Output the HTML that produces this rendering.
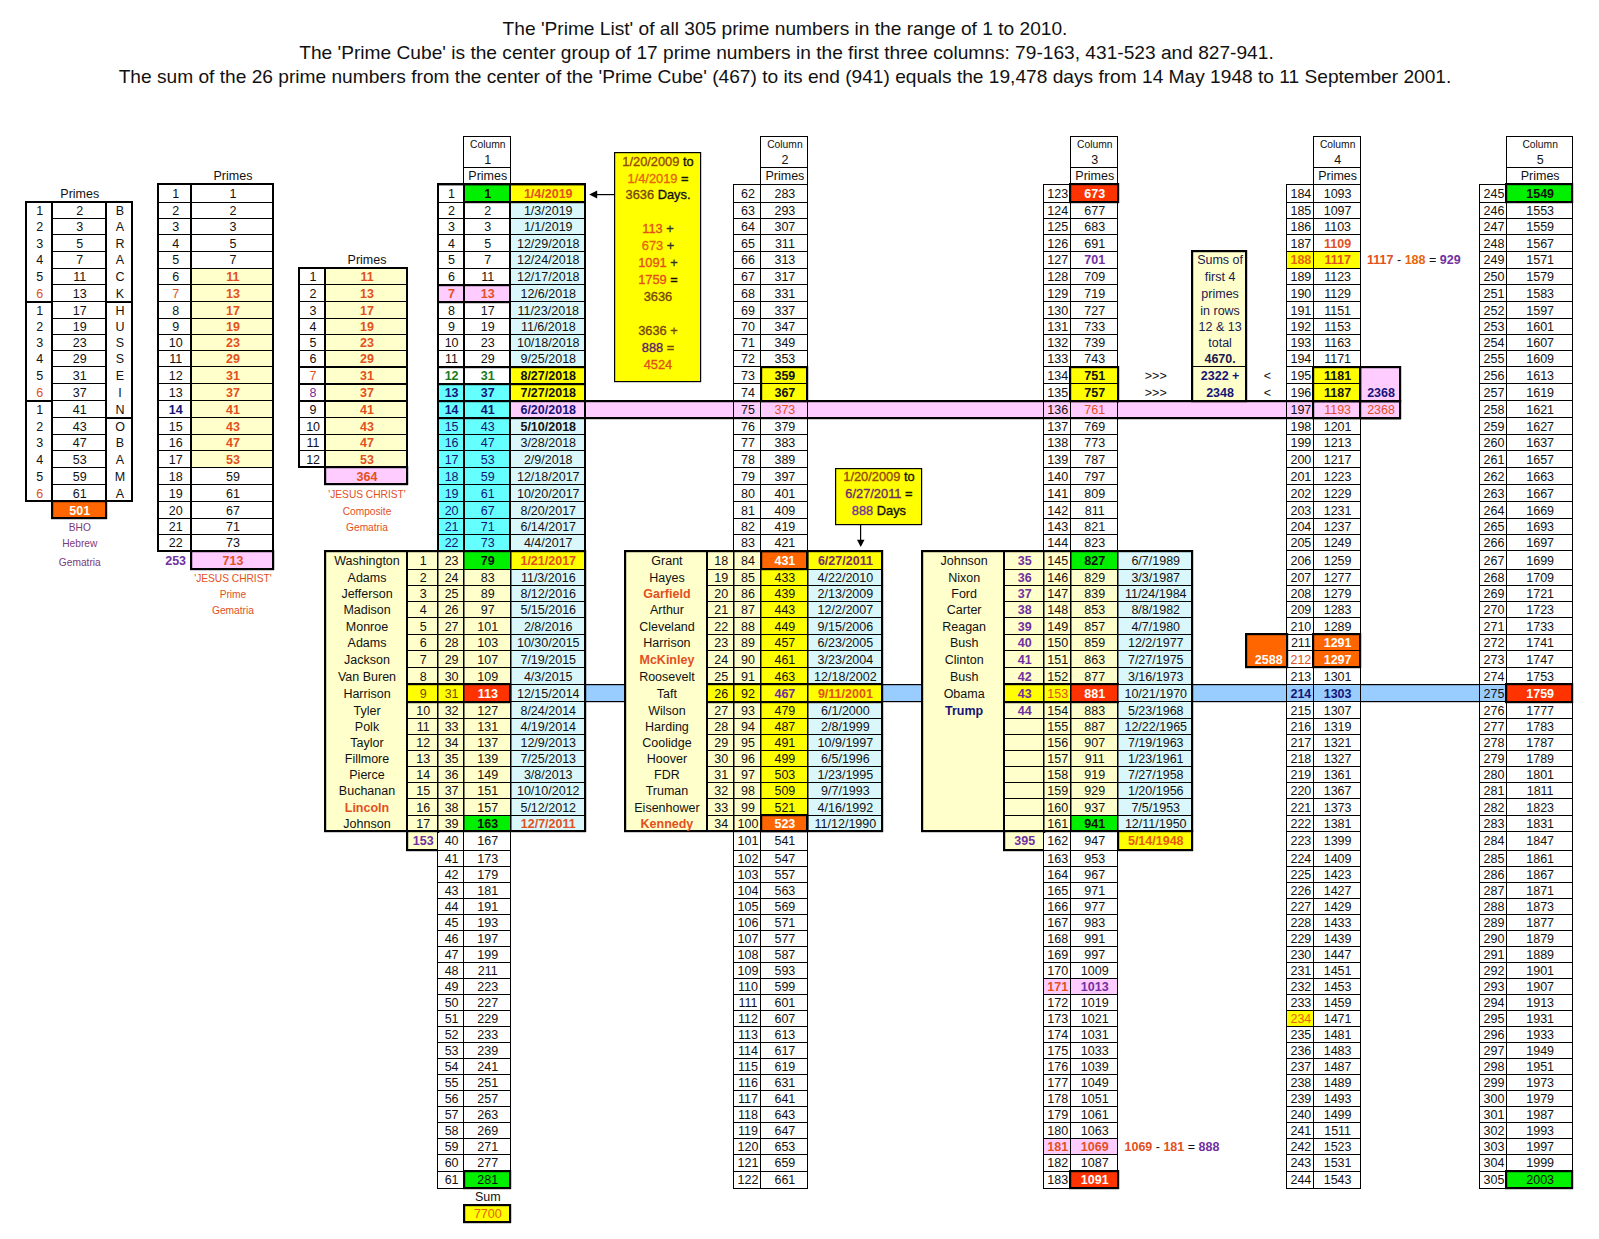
<!DOCTYPE html>
<html><head><meta charset="utf-8"><style>
html,body{margin:0;padding:0;background:#fff;width:1599px;height:1239px;overflow:hidden}
body{position:relative;font-family:"Liberation Sans",sans-serif}
.r{position:absolute}
.t{position:absolute;font-size:12.5px;line-height:14px;text-align:center;white-space:nowrap;color:#111}
.n{font-weight:normal}
.ti{position:absolute;left:0;width:1568px;text-align:center;font-size:19.15px;line-height:22px;white-space:nowrap;color:#111}
</style></head><body>
<div class="ti" style="top:18.2px;left:1px">The 'Prime List' of all 305 prime numbers in the range of 1 to 2010.</div>
<div class="ti" style="top:42.2px;left:2.5px">The 'Prime Cube' is the center group of 17 prime numbers in the first three columns: 79-163, 431-523 and 827-941.</div>
<div class="ti" style="top:66.4px;left:1px">The sum of the 26 prime numbers from the center of the 'Prime Cube' (467) to its end (941) equals the 19,478 days from 14 May 1948 to 11 September 2001.</div>
<div class="r" style="left:585px;top:401px;width:815px;height:17px;background:#FFCCFF"></div>
<div class="r" style="left:584px;top:400px;width:817px;height:2px;background:#000"></div>
<div class="r" style="left:584px;top:402px;width:817px;height:1px;background:rgba(0,0,0,0.20)"></div>
<div class="r" style="left:584px;top:417px;width:817px;height:2px;background:#000"></div>
<div class="r" style="left:584px;top:419px;width:817px;height:1px;background:rgba(0,0,0,0.20)"></div>
<div class="r" style="left:585px;top:684px;width:895px;height:18px;background:#99CCFF"></div>
<div class="r" style="left:584px;top:684px;width:896px;height:1px;background:#000"></div>
<div class="r" style="left:584px;top:685px;width:896px;height:1px;background:rgba(0,0,0,0.20)"></div>
<div class="r" style="left:584px;top:701px;width:896px;height:1px;background:#000"></div>
<div class="r" style="left:584px;top:702px;width:896px;height:1px;background:rgba(0,0,0,0.20)"></div>
<div class="t" style="left:52.6px;width:54.4px;top:186.7px;color:#111;">Primes</div>
<div class="r" style="left:26px;top:202px;width:106px;height:299px;background:#fff"></div>
<div class="r" style="left:51px;top:218px;width:56px;height:1px;background:#000"></div>
<div class="r" style="left:51px;top:234px;width:56px;height:1px;background:#000"></div>
<div class="r" style="left:51px;top:251px;width:56px;height:1px;background:#000"></div>
<div class="r" style="left:51px;top:268px;width:56px;height:1px;background:#000"></div>
<div class="r" style="left:51px;top:284px;width:56px;height:1px;background:#000"></div>
<div class="r" style="left:51px;top:301px;width:56px;height:1px;background:#000"></div>
<div class="r" style="left:51px;top:318px;width:56px;height:1px;background:#000"></div>
<div class="r" style="left:51px;top:334px;width:56px;height:1px;background:#000"></div>
<div class="r" style="left:51px;top:350px;width:56px;height:1px;background:#000"></div>
<div class="r" style="left:51px;top:366px;width:56px;height:1px;background:#000"></div>
<div class="r" style="left:51px;top:383px;width:56px;height:1px;background:#000"></div>
<div class="r" style="left:51px;top:400px;width:56px;height:1px;background:#000"></div>
<div class="r" style="left:51px;top:417px;width:56px;height:1px;background:#000"></div>
<div class="r" style="left:51px;top:434px;width:56px;height:1px;background:#000"></div>
<div class="r" style="left:51px;top:450px;width:56px;height:1px;background:#000"></div>
<div class="r" style="left:51px;top:467px;width:56px;height:1px;background:#000"></div>
<div class="r" style="left:51px;top:484px;width:56px;height:1px;background:#000"></div>
<div class="r" style="left:25px;top:301px;width:28px;height:2px;background:#000"></div>
<div class="r" style="left:25px;top:400px;width:28px;height:2px;background:#000"></div>
<div class="r" style="left:105px;top:301px;width:28px;height:2px;background:#000"></div>
<div class="r" style="left:105px;top:417px;width:28px;height:2px;background:#000"></div>
<div class="r" style="left:25px;top:201px;width:108px;height:2px;background:#000"></div>
<div class="r" style="left:25px;top:500px;width:108px;height:2px;background:#000"></div>
<div class="r" style="left:25px;top:201px;width:2px;height:301px;background:#000"></div>
<div class="r" style="left:131px;top:201px;width:2px;height:301px;background:#000"></div>
<div class="r" style="left:51px;top:201px;width:2px;height:301px;background:#000"></div>
<div class="r" style="left:105px;top:201px;width:2px;height:301px;background:#000"></div>
<div class="t" style="left:27px;width:25.6px;top:203.85px;color:#111;">1</div>
<div class="t" style="left:52.6px;width:54.4px;top:203.85px;color:#111;">2</div>
<div class="t" style="left:107px;width:26px;top:203.85px;color:#111;">B</div>
<div class="t" style="left:27px;width:25.6px;top:220.05px;color:#111;">2</div>
<div class="t" style="left:52.6px;width:54.4px;top:220.05px;color:#111;">3</div>
<div class="t" style="left:107px;width:26px;top:220.05px;color:#111;">A</div>
<div class="t" style="left:27px;width:25.6px;top:236.5px;color:#111;">3</div>
<div class="t" style="left:52.6px;width:54.4px;top:236.5px;color:#111;">5</div>
<div class="t" style="left:107px;width:26px;top:236.5px;color:#111;">R</div>
<div class="t" style="left:27px;width:25.6px;top:253.3px;color:#111;">4</div>
<div class="t" style="left:52.6px;width:54.4px;top:253.3px;color:#111;">7</div>
<div class="t" style="left:107px;width:26px;top:253.3px;color:#111;">A</div>
<div class="t" style="left:27px;width:25.6px;top:270.15px;color:#111;">5</div>
<div class="t" style="left:52.6px;width:54.4px;top:270.15px;color:#111;">11</div>
<div class="t" style="left:107px;width:26px;top:270.15px;color:#111;">C</div>
<div class="t" style="left:27px;width:25.6px;top:287.05px;color:#E2501E;">6</div>
<div class="t" style="left:52.6px;width:54.4px;top:287.05px;color:#111;">13</div>
<div class="t" style="left:107px;width:26px;top:287.05px;color:#111;">K</div>
<div class="t" style="left:27px;width:25.6px;top:303.6px;color:#111;">1</div>
<div class="t" style="left:52.6px;width:54.4px;top:303.6px;color:#111;">17</div>
<div class="t" style="left:107px;width:26px;top:303.6px;color:#111;">H</div>
<div class="t" style="left:27px;width:25.6px;top:319.8px;color:#111;">2</div>
<div class="t" style="left:52.6px;width:54.4px;top:319.8px;color:#111;">19</div>
<div class="t" style="left:107px;width:26px;top:319.8px;color:#111;">U</div>
<div class="t" style="left:27px;width:25.6px;top:335.95px;color:#111;">3</div>
<div class="t" style="left:52.6px;width:54.4px;top:335.95px;color:#111;">23</div>
<div class="t" style="left:107px;width:26px;top:335.95px;color:#111;">S</div>
<div class="t" style="left:27px;width:25.6px;top:352.15px;color:#111;">4</div>
<div class="t" style="left:52.6px;width:54.4px;top:352.15px;color:#111;">29</div>
<div class="t" style="left:107px;width:26px;top:352.15px;color:#111;">S</div>
<div class="t" style="left:27px;width:25.6px;top:368.75px;color:#111;">5</div>
<div class="t" style="left:52.6px;width:54.4px;top:368.75px;color:#111;">31</div>
<div class="t" style="left:107px;width:26px;top:368.75px;color:#111;">E</div>
<div class="t" style="left:27px;width:25.6px;top:385.85px;color:#E2501E;">6</div>
<div class="t" style="left:52.6px;width:54.4px;top:385.85px;color:#111;">37</div>
<div class="t" style="left:107px;width:26px;top:385.85px;color:#111;">I</div>
<div class="t" style="left:27px;width:25.6px;top:403.05px;color:#111;">1</div>
<div class="t" style="left:52.6px;width:54.4px;top:403.05px;color:#111;">41</div>
<div class="t" style="left:107px;width:26px;top:403.05px;color:#111;">N</div>
<div class="t" style="left:27px;width:25.6px;top:419.85px;color:#111;">2</div>
<div class="t" style="left:52.6px;width:54.4px;top:419.85px;color:#111;">43</div>
<div class="t" style="left:107px;width:26px;top:419.85px;color:#111;">O</div>
<div class="t" style="left:27px;width:25.6px;top:436.2px;color:#111;">3</div>
<div class="t" style="left:52.6px;width:54.4px;top:436.2px;color:#111;">47</div>
<div class="t" style="left:107px;width:26px;top:436.2px;color:#111;">B</div>
<div class="t" style="left:27px;width:25.6px;top:452.65px;color:#111;">4</div>
<div class="t" style="left:52.6px;width:54.4px;top:452.65px;color:#111;">53</div>
<div class="t" style="left:107px;width:26px;top:452.65px;color:#111;">A</div>
<div class="t" style="left:27px;width:25.6px;top:469.55px;color:#111;">5</div>
<div class="t" style="left:52.6px;width:54.4px;top:469.55px;color:#111;">59</div>
<div class="t" style="left:107px;width:26px;top:469.55px;color:#111;">M</div>
<div class="t" style="left:27px;width:25.6px;top:486.55px;color:#E2501E;">6</div>
<div class="t" style="left:52.6px;width:54.4px;top:486.55px;color:#111;">61</div>
<div class="t" style="left:107px;width:26px;top:486.55px;color:#111;">A</div>
<div class="r" style="left:52px;top:501px;width:54px;height:17px;background:#FF6600"></div>
<div class="r" style="left:51px;top:500px;width:56px;height:2px;background:#000"></div>
<div class="r" style="left:51px;top:502px;width:56px;height:1px;background:rgba(0,0,0,0.20)"></div>
<div class="r" style="left:51px;top:517px;width:56px;height:2px;background:#000"></div>
<div class="r" style="left:51px;top:519px;width:56px;height:1px;background:rgba(0,0,0,0.20)"></div>
<div class="r" style="left:51px;top:500px;width:2px;height:19px;background:#000"></div>
<div class="r" style="left:53px;top:500px;width:1px;height:19px;background:rgba(0,0,0,0.20)"></div>
<div class="r" style="left:105px;top:500px;width:2px;height:19px;background:#000"></div>
<div class="r" style="left:107px;top:500px;width:1px;height:19px;background:rgba(0,0,0,0.20)"></div>
<div class="t" style="left:52.6px;width:54.4px;top:503.55px;color:#fff;font-weight:bold;">501</div>
<div class="t" style="left:32.6px;width:94.4px;top:520.9px;color:#7B3B7B;font-size:10.2px;">BHO</div>
<div class="t" style="left:32.6px;width:94.4px;top:537.1px;color:#7B3B7B;font-size:10.2px;">Hebrew</div>
<div class="t" style="left:32.6px;width:94.4px;top:555.5px;color:#7B3B7B;font-size:10.2px;">Gematria</div>
<div class="t" style="left:191.9px;width:82.1px;top:169.3px;color:#111;">Primes</div>
<div class="r" style="left:158px;top:184px;width:115px;height:367px;background:#fff"></div>
<div class="r" style="left:191px;top:268px;width:82px;height:199px;background:#FFFFCC"></div>
<div class="r" style="left:158px;top:202px;width:116px;height:1px;background:#000"></div>
<div class="r" style="left:158px;top:218px;width:116px;height:1px;background:#000"></div>
<div class="r" style="left:158px;top:234px;width:116px;height:1px;background:#000"></div>
<div class="r" style="left:158px;top:251px;width:116px;height:1px;background:#000"></div>
<div class="r" style="left:158px;top:268px;width:116px;height:1px;background:#000"></div>
<div class="r" style="left:158px;top:284px;width:116px;height:1px;background:#000"></div>
<div class="r" style="left:158px;top:301px;width:116px;height:1px;background:#000"></div>
<div class="r" style="left:158px;top:318px;width:116px;height:1px;background:#000"></div>
<div class="r" style="left:158px;top:334px;width:116px;height:1px;background:#000"></div>
<div class="r" style="left:158px;top:350px;width:116px;height:1px;background:#000"></div>
<div class="r" style="left:158px;top:366px;width:116px;height:1px;background:#000"></div>
<div class="r" style="left:158px;top:383px;width:116px;height:1px;background:#000"></div>
<div class="r" style="left:158px;top:400px;width:116px;height:1px;background:#000"></div>
<div class="r" style="left:158px;top:417px;width:116px;height:1px;background:#000"></div>
<div class="r" style="left:158px;top:434px;width:116px;height:1px;background:#000"></div>
<div class="r" style="left:158px;top:450px;width:116px;height:1px;background:#000"></div>
<div class="r" style="left:158px;top:467px;width:116px;height:1px;background:#000"></div>
<div class="r" style="left:158px;top:484px;width:116px;height:1px;background:#000"></div>
<div class="r" style="left:158px;top:501px;width:116px;height:1px;background:#000"></div>
<div class="r" style="left:158px;top:518px;width:116px;height:1px;background:#000"></div>
<div class="r" style="left:158px;top:534px;width:116px;height:1px;background:#000"></div>
<div class="r" style="left:157px;top:183px;width:117px;height:2px;background:#000"></div>
<div class="r" style="left:157px;top:550px;width:117px;height:2px;background:#000"></div>
<div class="r" style="left:157px;top:183px;width:2px;height:369px;background:#000"></div>
<div class="r" style="left:272px;top:183px;width:2px;height:369px;background:#000"></div>
<div class="r" style="left:190px;top:183px;width:2px;height:369px;background:#000"></div>
<div class="t" style="left:159.4px;width:32.5px;top:186.7px;color:#111;">1</div>
<div class="t" style="left:191.9px;width:82.1px;top:186.7px;color:#111;">1</div>
<div class="t" style="left:159.4px;width:32.5px;top:203.85px;color:#111;">2</div>
<div class="t" style="left:191.9px;width:82.1px;top:203.85px;color:#111;">2</div>
<div class="t" style="left:159.4px;width:32.5px;top:220.05px;color:#111;">3</div>
<div class="t" style="left:191.9px;width:82.1px;top:220.05px;color:#111;">3</div>
<div class="t" style="left:159.4px;width:32.5px;top:236.5px;color:#111;">4</div>
<div class="t" style="left:191.9px;width:82.1px;top:236.5px;color:#111;">5</div>
<div class="t" style="left:159.4px;width:32.5px;top:253.3px;color:#111;">5</div>
<div class="t" style="left:191.9px;width:82.1px;top:253.3px;color:#111;">7</div>
<div class="t" style="left:159.4px;width:32.5px;top:270.15px;color:#111;">6</div>
<div class="t" style="left:191.9px;width:82.1px;top:270.15px;color:#E2501E;font-weight:bold;">11</div>
<div class="t" style="left:159.4px;width:32.5px;top:287.05px;color:#E2501E;">7</div>
<div class="t" style="left:191.9px;width:82.1px;top:287.05px;color:#E2501E;font-weight:bold;">13</div>
<div class="t" style="left:159.4px;width:32.5px;top:303.6px;color:#111;">8</div>
<div class="t" style="left:191.9px;width:82.1px;top:303.6px;color:#E2501E;font-weight:bold;">17</div>
<div class="t" style="left:159.4px;width:32.5px;top:319.8px;color:#111;">9</div>
<div class="t" style="left:191.9px;width:82.1px;top:319.8px;color:#E2501E;font-weight:bold;">19</div>
<div class="t" style="left:159.4px;width:32.5px;top:335.95px;color:#111;">10</div>
<div class="t" style="left:191.9px;width:82.1px;top:335.95px;color:#E2501E;font-weight:bold;">23</div>
<div class="t" style="left:159.4px;width:32.5px;top:352.15px;color:#111;">11</div>
<div class="t" style="left:191.9px;width:82.1px;top:352.15px;color:#E2501E;font-weight:bold;">29</div>
<div class="t" style="left:159.4px;width:32.5px;top:368.75px;color:#111;">12</div>
<div class="t" style="left:191.9px;width:82.1px;top:368.75px;color:#E2501E;font-weight:bold;">31</div>
<div class="t" style="left:159.4px;width:32.5px;top:385.85px;color:#111;">13</div>
<div class="t" style="left:191.9px;width:82.1px;top:385.85px;color:#E2501E;font-weight:bold;">37</div>
<div class="t" style="left:159.4px;width:32.5px;top:403.05px;color:#141478;font-weight:bold;">14</div>
<div class="t" style="left:191.9px;width:82.1px;top:403.05px;color:#E2501E;font-weight:bold;">41</div>
<div class="t" style="left:159.4px;width:32.5px;top:419.85px;color:#111;">15</div>
<div class="t" style="left:191.9px;width:82.1px;top:419.85px;color:#E2501E;font-weight:bold;">43</div>
<div class="t" style="left:159.4px;width:32.5px;top:436.2px;color:#111;">16</div>
<div class="t" style="left:191.9px;width:82.1px;top:436.2px;color:#E2501E;font-weight:bold;">47</div>
<div class="t" style="left:159.4px;width:32.5px;top:452.65px;color:#111;">17</div>
<div class="t" style="left:191.9px;width:82.1px;top:452.65px;color:#E2501E;font-weight:bold;">53</div>
<div class="t" style="left:159.4px;width:32.5px;top:469.55px;color:#111;">18</div>
<div class="t" style="left:191.9px;width:82.1px;top:469.55px;color:#111;">59</div>
<div class="t" style="left:159.4px;width:32.5px;top:486.55px;color:#111;">19</div>
<div class="t" style="left:191.9px;width:82.1px;top:486.55px;color:#111;">61</div>
<div class="t" style="left:159.4px;width:32.5px;top:503.55px;color:#111;">20</div>
<div class="t" style="left:191.9px;width:82.1px;top:503.55px;color:#111;">67</div>
<div class="t" style="left:159.4px;width:32.5px;top:520.15px;color:#111;">21</div>
<div class="t" style="left:191.9px;width:82.1px;top:520.15px;color:#111;">71</div>
<div class="t" style="left:159.4px;width:32.5px;top:536.3px;color:#111;">22</div>
<div class="t" style="left:191.9px;width:82.1px;top:536.3px;color:#111;">73</div>
<div class="t" style="left:159.4px;width:32.5px;top:553.6px;color:#7030A0;font-weight:bold;">253</div>
<div class="r" style="left:191px;top:551px;width:82px;height:18px;background:#FFCCFF"></div>
<div class="r" style="left:190px;top:550px;width:84px;height:2px;background:#000"></div>
<div class="r" style="left:190px;top:552px;width:84px;height:1px;background:rgba(0,0,0,0.20)"></div>
<div class="r" style="left:190px;top:568px;width:84px;height:2px;background:#000"></div>
<div class="r" style="left:190px;top:570px;width:84px;height:1px;background:rgba(0,0,0,0.20)"></div>
<div class="r" style="left:190px;top:550px;width:2px;height:20px;background:#000"></div>
<div class="r" style="left:192px;top:550px;width:1px;height:20px;background:rgba(0,0,0,0.20)"></div>
<div class="r" style="left:272px;top:550px;width:2px;height:20px;background:#000"></div>
<div class="r" style="left:274px;top:550px;width:1px;height:20px;background:rgba(0,0,0,0.20)"></div>
<div class="t" style="left:191.9px;width:82.1px;top:553.6px;color:#E2501E;font-weight:bold;">713</div>
<div class="t" style="left:161.9px;width:142.1px;top:571.6px;color:#E2501E;font-size:10.2px;">'JESUS CHRIST'</div>
<div class="t" style="left:161.9px;width:142.1px;top:587.8px;color:#E2501E;font-size:10.2px;">Prime</div>
<div class="t" style="left:161.9px;width:142.1px;top:603.9px;color:#E2501E;font-size:10.2px;">Gematria</div>
<div class="t" style="left:326px;width:82px;top:253.3px;color:#111;">Primes</div>
<div class="r" style="left:299px;top:268px;width:108px;height:199px;background:#fff"></div>
<div class="r" style="left:325px;top:268px;width:82px;height:199px;background:#FFFFCC"></div>
<div class="r" style="left:299px;top:284px;width:109px;height:1px;background:#000"></div>
<div class="r" style="left:299px;top:301px;width:109px;height:1px;background:#000"></div>
<div class="r" style="left:299px;top:318px;width:109px;height:1px;background:#000"></div>
<div class="r" style="left:299px;top:334px;width:109px;height:1px;background:#000"></div>
<div class="r" style="left:299px;top:350px;width:109px;height:1px;background:#000"></div>
<div class="r" style="left:299px;top:366px;width:109px;height:1px;background:#000"></div>
<div class="r" style="left:299px;top:383px;width:109px;height:1px;background:#000"></div>
<div class="r" style="left:299px;top:400px;width:109px;height:1px;background:#000"></div>
<div class="r" style="left:299px;top:417px;width:109px;height:1px;background:#000"></div>
<div class="r" style="left:299px;top:434px;width:109px;height:1px;background:#000"></div>
<div class="r" style="left:299px;top:450px;width:109px;height:1px;background:#000"></div>
<div class="r" style="left:298px;top:366px;width:110px;height:2px;background:#000"></div>
<div class="r" style="left:298px;top:383px;width:110px;height:2px;background:#000"></div>
<div class="r" style="left:298px;top:400px;width:110px;height:2px;background:#000"></div>
<div class="r" style="left:298px;top:267px;width:110px;height:2px;background:#000"></div>
<div class="r" style="left:298px;top:466px;width:110px;height:2px;background:#000"></div>
<div class="r" style="left:298px;top:267px;width:2px;height:201px;background:#000"></div>
<div class="r" style="left:406px;top:267px;width:2px;height:201px;background:#000"></div>
<div class="r" style="left:324px;top:267px;width:2px;height:201px;background:#000"></div>
<div class="t" style="left:300.2px;width:25.8px;top:270.15px;color:#111;">1</div>
<div class="t" style="left:326px;width:82px;top:270.15px;color:#E2501E;font-weight:bold;">11</div>
<div class="t" style="left:300.2px;width:25.8px;top:287.05px;color:#111;">2</div>
<div class="t" style="left:326px;width:82px;top:287.05px;color:#E2501E;font-weight:bold;">13</div>
<div class="t" style="left:300.2px;width:25.8px;top:303.6px;color:#111;">3</div>
<div class="t" style="left:326px;width:82px;top:303.6px;color:#E2501E;font-weight:bold;">17</div>
<div class="t" style="left:300.2px;width:25.8px;top:319.8px;color:#111;">4</div>
<div class="t" style="left:326px;width:82px;top:319.8px;color:#E2501E;font-weight:bold;">19</div>
<div class="t" style="left:300.2px;width:25.8px;top:335.95px;color:#111;">5</div>
<div class="t" style="left:326px;width:82px;top:335.95px;color:#E2501E;font-weight:bold;">23</div>
<div class="t" style="left:300.2px;width:25.8px;top:352.15px;color:#111;">6</div>
<div class="t" style="left:326px;width:82px;top:352.15px;color:#E2501E;font-weight:bold;">29</div>
<div class="t" style="left:300.2px;width:25.8px;top:368.75px;color:#E2501E;">7</div>
<div class="t" style="left:326px;width:82px;top:368.75px;color:#E2501E;font-weight:bold;">31</div>
<div class="t" style="left:300.2px;width:25.8px;top:385.85px;color:#7030A0;">8</div>
<div class="t" style="left:326px;width:82px;top:385.85px;color:#E2501E;font-weight:bold;">37</div>
<div class="t" style="left:300.2px;width:25.8px;top:403.05px;color:#111;">9</div>
<div class="t" style="left:326px;width:82px;top:403.05px;color:#E2501E;font-weight:bold;">41</div>
<div class="t" style="left:300.2px;width:25.8px;top:419.85px;color:#111;">10</div>
<div class="t" style="left:326px;width:82px;top:419.85px;color:#E2501E;font-weight:bold;">43</div>
<div class="t" style="left:300.2px;width:25.8px;top:436.2px;color:#111;">11</div>
<div class="t" style="left:326px;width:82px;top:436.2px;color:#E2501E;font-weight:bold;">47</div>
<div class="t" style="left:300.2px;width:25.8px;top:452.65px;color:#111;">12</div>
<div class="t" style="left:326px;width:82px;top:452.65px;color:#E2501E;font-weight:bold;">53</div>
<div class="r" style="left:325px;top:467px;width:82px;height:17px;background:#FFCCFF"></div>
<div class="r" style="left:324px;top:466px;width:84px;height:2px;background:#000"></div>
<div class="r" style="left:324px;top:468px;width:84px;height:1px;background:rgba(0,0,0,0.20)"></div>
<div class="r" style="left:324px;top:483px;width:84px;height:2px;background:#000"></div>
<div class="r" style="left:324px;top:485px;width:84px;height:1px;background:rgba(0,0,0,0.20)"></div>
<div class="r" style="left:324px;top:466px;width:2px;height:19px;background:#000"></div>
<div class="r" style="left:326px;top:466px;width:1px;height:19px;background:rgba(0,0,0,0.20)"></div>
<div class="r" style="left:406px;top:466px;width:2px;height:19px;background:#000"></div>
<div class="r" style="left:408px;top:466px;width:1px;height:19px;background:rgba(0,0,0,0.20)"></div>
<div class="t" style="left:326px;width:82px;top:469.55px;color:#E2501E;font-weight:bold;">364</div>
<div class="t" style="left:296px;width:142px;top:487.7px;color:#E2501E;font-size:10.2px;">'JESUS CHRIST'</div>
<div class="t" style="left:296px;width:142px;top:504.8px;color:#E2501E;font-size:10.2px;">Composite</div>
<div class="t" style="left:296px;width:142px;top:520.9px;color:#E2501E;font-size:10.2px;">Gematria</div>
<div class="r" style="left:464px;top:137px;width:46px;height:47px;background:#fff"></div>
<div class="r" style="left:463px;top:136px;width:48px;height:1px;background:#000"></div>
<div class="r" style="left:463px;top:167px;width:48px;height:1px;background:#000"></div>
<div class="r" style="left:463px;top:136px;width:1px;height:32px;background:#000"></div>
<div class="r" style="left:510px;top:136px;width:1px;height:32px;background:#000"></div>
<div class="r" style="left:463px;top:167px;width:48px;height:1px;background:#000"></div>
<div class="r" style="left:463px;top:184px;width:48px;height:1px;background:#000"></div>
<div class="r" style="left:463px;top:167px;width:1px;height:18px;background:#000"></div>
<div class="r" style="left:510px;top:167px;width:1px;height:18px;background:#000"></div>
<div class="t" style="left:464.6px;width:46.4px;top:137.6px;color:#111;font-size:10.3px;">Column</div>
<div class="t" style="left:464.6px;width:46.4px;top:152.6px;color:#111;">1</div>
<div class="t" style="left:464.6px;width:46.4px;top:169.3px;color:#111;">Primes</div>
<div class="r" style="left:438px;top:184px;width:147px;height:367px;background:#fff"></div>
<div class="r" style="left:510px;top:184px;width:75px;height:367px;background:#DAF7FC"></div>
<div class="r" style="left:464px;top:184px;width:46px;height:18px;background:#00F000"></div>
<div class="r" style="left:510px;top:184px;width:75px;height:18px;background:#FFFF00"></div>
<div class="r" style="left:438px;top:285px;width:72px;height:17px;background:#FFCCFF"></div>
<div class="r" style="left:510px;top:367px;width:75px;height:34px;background:#FFFF00"></div>
<div class="r" style="left:510px;top:401px;width:75px;height:17px;background:#FFCCFF"></div>
<div class="r" style="left:438px;top:384px;width:72px;height:167px;background:#66FFFF"></div>
<div class="r" style="left:437px;top:202px;width:148px;height:1px;background:#000"></div>
<div class="r" style="left:437px;top:218px;width:148px;height:1px;background:#000"></div>
<div class="r" style="left:437px;top:234px;width:148px;height:1px;background:#000"></div>
<div class="r" style="left:437px;top:251px;width:148px;height:1px;background:#000"></div>
<div class="r" style="left:437px;top:268px;width:148px;height:1px;background:#000"></div>
<div class="r" style="left:437px;top:284px;width:148px;height:1px;background:#000"></div>
<div class="r" style="left:437px;top:301px;width:148px;height:1px;background:#000"></div>
<div class="r" style="left:437px;top:318px;width:148px;height:1px;background:#000"></div>
<div class="r" style="left:437px;top:334px;width:148px;height:1px;background:#000"></div>
<div class="r" style="left:437px;top:350px;width:148px;height:1px;background:#000"></div>
<div class="r" style="left:437px;top:366px;width:148px;height:1px;background:#000"></div>
<div class="r" style="left:437px;top:383px;width:148px;height:1px;background:#000"></div>
<div class="r" style="left:437px;top:400px;width:148px;height:1px;background:#000"></div>
<div class="r" style="left:437px;top:417px;width:148px;height:1px;background:#000"></div>
<div class="r" style="left:437px;top:434px;width:148px;height:1px;background:#000"></div>
<div class="r" style="left:437px;top:450px;width:148px;height:1px;background:#000"></div>
<div class="r" style="left:437px;top:467px;width:148px;height:1px;background:#000"></div>
<div class="r" style="left:437px;top:484px;width:148px;height:1px;background:#000"></div>
<div class="r" style="left:437px;top:501px;width:148px;height:1px;background:#000"></div>
<div class="r" style="left:437px;top:518px;width:148px;height:1px;background:#000"></div>
<div class="r" style="left:437px;top:534px;width:148px;height:1px;background:#000"></div>
<div class="r" style="left:437px;top:183px;width:2px;height:369px;background:#000"></div>
<div class="r" style="left:463px;top:183px;width:2px;height:369px;background:#000"></div>
<div class="r" style="left:509px;top:183px;width:2px;height:369px;background:#000"></div>
<div class="r" style="left:584px;top:183px;width:2px;height:369px;background:#000"></div>
<div class="r" style="left:437px;top:183px;width:149px;height:2px;background:#000"></div>
<div class="r" style="left:437px;top:185px;width:149px;height:1px;background:rgba(0,0,0,0.40)"></div>
<div class="r" style="left:463px;top:201px;width:123px;height:2px;background:#000"></div>
<div class="r" style="left:463px;top:203px;width:123px;height:1px;background:rgba(0,0,0,0.20)"></div>
<div class="r" style="left:437px;top:284px;width:74px;height:2px;background:#000"></div>
<div class="r" style="left:437px;top:286px;width:74px;height:1px;background:rgba(0,0,0,0.20)"></div>
<div class="r" style="left:437px;top:301px;width:74px;height:2px;background:#000"></div>
<div class="r" style="left:437px;top:303px;width:74px;height:1px;background:rgba(0,0,0,0.20)"></div>
<div class="r" style="left:437px;top:366px;width:149px;height:2px;background:#000"></div>
<div class="r" style="left:437px;top:368px;width:149px;height:1px;background:rgba(0,0,0,0.20)"></div>
<div class="r" style="left:437px;top:383px;width:149px;height:2px;background:#000"></div>
<div class="r" style="left:437px;top:385px;width:149px;height:1px;background:rgba(0,0,0,0.20)"></div>
<div class="r" style="left:437px;top:400px;width:149px;height:2px;background:#000"></div>
<div class="r" style="left:437px;top:402px;width:149px;height:1px;background:rgba(0,0,0,0.20)"></div>
<div class="r" style="left:437px;top:417px;width:149px;height:2px;background:#000"></div>
<div class="r" style="left:437px;top:419px;width:149px;height:1px;background:rgba(0,0,0,0.20)"></div>
<div class="t" style="left:438.6px;width:26px;top:186.7px;color:#111;">1</div>
<div class="t" style="left:464.6px;width:46.4px;top:186.7px;color:#111;font-weight:bold;">1</div>
<div class="t" style="left:511px;width:74.5px;top:186.7px;color:#E2501E;font-weight:bold;">1/4/2019</div>
<div class="t" style="left:438.6px;width:26px;top:203.85px;color:#111;">2</div>
<div class="t" style="left:464.6px;width:46.4px;top:203.85px;color:#111;">2</div>
<div class="t" style="left:511px;width:74.5px;top:203.85px;color:#111;">1/3/2019</div>
<div class="t" style="left:438.6px;width:26px;top:220.05px;color:#111;">3</div>
<div class="t" style="left:464.6px;width:46.4px;top:220.05px;color:#111;">3</div>
<div class="t" style="left:511px;width:74.5px;top:220.05px;color:#111;">1/1/2019</div>
<div class="t" style="left:438.6px;width:26px;top:236.5px;color:#111;">4</div>
<div class="t" style="left:464.6px;width:46.4px;top:236.5px;color:#111;">5</div>
<div class="t" style="left:511px;width:74.5px;top:236.5px;color:#111;">12/29/2018</div>
<div class="t" style="left:438.6px;width:26px;top:253.3px;color:#111;">5</div>
<div class="t" style="left:464.6px;width:46.4px;top:253.3px;color:#111;">7</div>
<div class="t" style="left:511px;width:74.5px;top:253.3px;color:#111;">12/24/2018</div>
<div class="t" style="left:438.6px;width:26px;top:270.15px;color:#111;">6</div>
<div class="t" style="left:464.6px;width:46.4px;top:270.15px;color:#111;">11</div>
<div class="t" style="left:511px;width:74.5px;top:270.15px;color:#111;">12/17/2018</div>
<div class="t" style="left:438.6px;width:26px;top:287.05px;color:#E2501E;font-weight:bold;">7</div>
<div class="t" style="left:464.6px;width:46.4px;top:287.05px;color:#E2501E;font-weight:bold;">13</div>
<div class="t" style="left:511px;width:74.5px;top:287.05px;color:#111;">12/6/2018</div>
<div class="t" style="left:438.6px;width:26px;top:303.6px;color:#111;">8</div>
<div class="t" style="left:464.6px;width:46.4px;top:303.6px;color:#111;">17</div>
<div class="t" style="left:511px;width:74.5px;top:303.6px;color:#111;">11/23/2018</div>
<div class="t" style="left:438.6px;width:26px;top:319.8px;color:#111;">9</div>
<div class="t" style="left:464.6px;width:46.4px;top:319.8px;color:#111;">19</div>
<div class="t" style="left:511px;width:74.5px;top:319.8px;color:#111;">11/6/2018</div>
<div class="t" style="left:438.6px;width:26px;top:335.95px;color:#111;">10</div>
<div class="t" style="left:464.6px;width:46.4px;top:335.95px;color:#111;">23</div>
<div class="t" style="left:511px;width:74.5px;top:335.95px;color:#111;">10/18/2018</div>
<div class="t" style="left:438.6px;width:26px;top:352.15px;color:#111;">11</div>
<div class="t" style="left:464.6px;width:46.4px;top:352.15px;color:#111;">29</div>
<div class="t" style="left:511px;width:74.5px;top:352.15px;color:#111;">9/25/2018</div>
<div class="t" style="left:438.6px;width:26px;top:368.75px;color:#1A7A1A;font-weight:bold;">12</div>
<div class="t" style="left:464.6px;width:46.4px;top:368.75px;color:#1A7A1A;font-weight:bold;">31</div>
<div class="t" style="left:511px;width:74.5px;top:368.75px;color:#111;font-weight:bold;">8/27/2018</div>
<div class="t" style="left:438.6px;width:26px;top:385.85px;color:#141478;font-weight:bold;">13</div>
<div class="t" style="left:464.6px;width:46.4px;top:385.85px;color:#141478;font-weight:bold;">37</div>
<div class="t" style="left:511px;width:74.5px;top:385.85px;color:#111;font-weight:bold;">7/27/2018</div>
<div class="t" style="left:438.6px;width:26px;top:403.05px;color:#141478;font-weight:bold;">14</div>
<div class="t" style="left:464.6px;width:46.4px;top:403.05px;color:#141478;font-weight:bold;">41</div>
<div class="t" style="left:511px;width:74.5px;top:403.05px;color:#141478;font-weight:bold;">6/20/2018</div>
<div class="t" style="left:438.6px;width:26px;top:419.85px;color:#141478;">15</div>
<div class="t" style="left:464.6px;width:46.4px;top:419.85px;color:#141478;">43</div>
<div class="t" style="left:511px;width:74.5px;top:419.85px;color:#111;font-weight:bold;">5/10/2018</div>
<div class="t" style="left:438.6px;width:26px;top:436.2px;color:#141478;">16</div>
<div class="t" style="left:464.6px;width:46.4px;top:436.2px;color:#141478;">47</div>
<div class="t" style="left:511px;width:74.5px;top:436.2px;color:#111;">3/28/2018</div>
<div class="t" style="left:438.6px;width:26px;top:452.65px;color:#141478;">17</div>
<div class="t" style="left:464.6px;width:46.4px;top:452.65px;color:#141478;">53</div>
<div class="t" style="left:511px;width:74.5px;top:452.65px;color:#111;">2/9/2018</div>
<div class="t" style="left:438.6px;width:26px;top:469.55px;color:#141478;">18</div>
<div class="t" style="left:464.6px;width:46.4px;top:469.55px;color:#141478;">59</div>
<div class="t" style="left:511px;width:74.5px;top:469.55px;color:#111;">12/18/2017</div>
<div class="t" style="left:438.6px;width:26px;top:486.55px;color:#141478;">19</div>
<div class="t" style="left:464.6px;width:46.4px;top:486.55px;color:#141478;">61</div>
<div class="t" style="left:511px;width:74.5px;top:486.55px;color:#111;">10/20/2017</div>
<div class="t" style="left:438.6px;width:26px;top:503.55px;color:#141478;">20</div>
<div class="t" style="left:464.6px;width:46.4px;top:503.55px;color:#141478;">67</div>
<div class="t" style="left:511px;width:74.5px;top:503.55px;color:#111;">8/20/2017</div>
<div class="t" style="left:438.6px;width:26px;top:520.15px;color:#141478;">21</div>
<div class="t" style="left:464.6px;width:46.4px;top:520.15px;color:#141478;">71</div>
<div class="t" style="left:511px;width:74.5px;top:520.15px;color:#111;">6/14/2017</div>
<div class="t" style="left:438.6px;width:26px;top:536.3px;color:#141478;">22</div>
<div class="t" style="left:464.6px;width:46.4px;top:536.3px;color:#141478;">73</div>
<div class="t" style="left:511px;width:74.5px;top:536.3px;color:#111;">4/4/2017</div>
<div class="r" style="left:325px;top:551px;width:185px;height:280px;background:#FFFFCC"></div>
<div class="r" style="left:510px;top:551px;width:75px;height:280px;background:#DAF7FC"></div>
<div class="r" style="left:464px;top:551px;width:46px;height:18px;background:#00F000"></div>
<div class="r" style="left:510px;top:551px;width:75px;height:18px;background:#FFFF00"></div>
<div class="r" style="left:407px;top:684px;width:57px;height:18px;background:#FFFF00"></div>
<div class="r" style="left:464px;top:684px;width:46px;height:18px;background:#FF3300"></div>
<div class="r" style="left:464px;top:815px;width:46px;height:16px;background:#00F000"></div>
<div class="r" style="left:407px;top:569px;width:178px;height:1px;background:#000"></div>
<div class="r" style="left:407px;top:585px;width:178px;height:1px;background:#000"></div>
<div class="r" style="left:407px;top:601px;width:178px;height:1px;background:#000"></div>
<div class="r" style="left:407px;top:617px;width:178px;height:1px;background:#000"></div>
<div class="r" style="left:407px;top:634px;width:178px;height:1px;background:#000"></div>
<div class="r" style="left:407px;top:650px;width:178px;height:1px;background:#000"></div>
<div class="r" style="left:407px;top:667px;width:178px;height:1px;background:#000"></div>
<div class="r" style="left:407px;top:684px;width:178px;height:1px;background:#000"></div>
<div class="r" style="left:407px;top:701px;width:178px;height:1px;background:#000"></div>
<div class="r" style="left:407px;top:718px;width:178px;height:1px;background:#000"></div>
<div class="r" style="left:407px;top:734px;width:178px;height:1px;background:#000"></div>
<div class="r" style="left:407px;top:750px;width:178px;height:1px;background:#000"></div>
<div class="r" style="left:407px;top:766px;width:178px;height:1px;background:#000"></div>
<div class="r" style="left:407px;top:782px;width:178px;height:1px;background:#000"></div>
<div class="r" style="left:407px;top:798px;width:178px;height:1px;background:#000"></div>
<div class="r" style="left:407px;top:815px;width:178px;height:1px;background:#000"></div>
<div class="r" style="left:406px;top:550px;width:2px;height:282px;background:#000"></div>
<div class="r" style="left:437px;top:550px;width:1px;height:282px;background:#000"></div>
<div class="r" style="left:438px;top:550px;width:1px;height:282px;background:rgba(0,0,0,0.50)"></div>
<div class="r" style="left:463px;top:550px;width:1px;height:282px;background:#000"></div>
<div class="r" style="left:464px;top:550px;width:1px;height:282px;background:rgba(0,0,0,0.50)"></div>
<div class="r" style="left:510px;top:550px;width:1px;height:282px;background:#000"></div>
<div class="r" style="left:511px;top:550px;width:1px;height:282px;background:rgba(0,0,0,0.50)"></div>
<div class="r" style="left:324px;top:550px;width:262px;height:2px;background:#000"></div>
<div class="r" style="left:324px;top:552px;width:262px;height:1px;background:rgba(0,0,0,0.20)"></div>
<div class="r" style="left:324px;top:830px;width:262px;height:2px;background:#000"></div>
<div class="r" style="left:324px;top:832px;width:262px;height:1px;background:rgba(0,0,0,0.20)"></div>
<div class="r" style="left:324px;top:550px;width:2px;height:282px;background:#000"></div>
<div class="r" style="left:326px;top:550px;width:1px;height:282px;background:rgba(0,0,0,0.20)"></div>
<div class="r" style="left:584px;top:550px;width:2px;height:282px;background:#000"></div>
<div class="r" style="left:586px;top:550px;width:1px;height:282px;background:rgba(0,0,0,0.20)"></div>
<div class="r" style="left:406px;top:683px;width:105px;height:2px;background:#000"></div>
<div class="r" style="left:406px;top:685px;width:105px;height:1px;background:rgba(0,0,0,0.20)"></div>
<div class="r" style="left:406px;top:701px;width:105px;height:2px;background:#000"></div>
<div class="r" style="left:406px;top:703px;width:105px;height:1px;background:rgba(0,0,0,0.20)"></div>
<div class="r" style="left:509px;top:683px;width:2px;height:20px;background:#000"></div>
<div class="r" style="left:511px;top:683px;width:1px;height:20px;background:rgba(0,0,0,0.20)"></div>
<div class="t" style="left:326px;width:82px;top:553.6px;color:#111;">Washington</div>
<div class="t" style="left:408px;width:30.6px;top:553.6px;color:#111;">1</div>
<div class="t" style="left:438.6px;width:26px;top:553.6px;color:#111;">23</div>
<div class="t" style="left:464.6px;width:46.4px;top:553.6px;color:#111;font-weight:bold;">79</div>
<div class="t" style="left:511px;width:74.5px;top:553.6px;color:#E2501E;font-weight:bold;">1/21/2017</div>
<div class="t" style="left:326px;width:82px;top:570.85px;color:#111;">Adams</div>
<div class="t" style="left:408px;width:30.6px;top:570.85px;color:#111;">2</div>
<div class="t" style="left:438.6px;width:26px;top:570.85px;color:#111;">24</div>
<div class="t" style="left:464.6px;width:46.4px;top:570.85px;color:#111;">83</div>
<div class="t" style="left:511px;width:74.5px;top:570.85px;color:#111;">11/3/2016</div>
<div class="t" style="left:326px;width:82px;top:587px;color:#111;">Jefferson</div>
<div class="t" style="left:408px;width:30.6px;top:587px;color:#111;">3</div>
<div class="t" style="left:438.6px;width:26px;top:587px;color:#111;">25</div>
<div class="t" style="left:464.6px;width:46.4px;top:587px;color:#111;">89</div>
<div class="t" style="left:511px;width:74.5px;top:587px;color:#111;">8/12/2016</div>
<div class="t" style="left:326px;width:82px;top:603.15px;color:#111;">Madison</div>
<div class="t" style="left:408px;width:30.6px;top:603.15px;color:#111;">4</div>
<div class="t" style="left:438.6px;width:26px;top:603.15px;color:#111;">26</div>
<div class="t" style="left:464.6px;width:46.4px;top:603.15px;color:#111;">97</div>
<div class="t" style="left:511px;width:74.5px;top:603.15px;color:#111;">5/15/2016</div>
<div class="t" style="left:326px;width:82px;top:619.6px;color:#111;">Monroe</div>
<div class="t" style="left:408px;width:30.6px;top:619.6px;color:#111;">5</div>
<div class="t" style="left:438.6px;width:26px;top:619.6px;color:#111;">27</div>
<div class="t" style="left:464.6px;width:46.4px;top:619.6px;color:#111;">101</div>
<div class="t" style="left:511px;width:74.5px;top:619.6px;color:#111;">2/8/2016</div>
<div class="t" style="left:326px;width:82px;top:636.1px;color:#111;">Adams</div>
<div class="t" style="left:408px;width:30.6px;top:636.1px;color:#111;">6</div>
<div class="t" style="left:438.6px;width:26px;top:636.1px;color:#111;">28</div>
<div class="t" style="left:464.6px;width:46.4px;top:636.1px;color:#111;">103</div>
<div class="t" style="left:511px;width:74.5px;top:636.1px;color:#111;">10/30/2015</div>
<div class="t" style="left:326px;width:82px;top:652.6px;color:#111;">Jackson</div>
<div class="t" style="left:408px;width:30.6px;top:652.6px;color:#111;">7</div>
<div class="t" style="left:438.6px;width:26px;top:652.6px;color:#111;">29</div>
<div class="t" style="left:464.6px;width:46.4px;top:652.6px;color:#111;">107</div>
<div class="t" style="left:511px;width:74.5px;top:652.6px;color:#111;">7/19/2015</div>
<div class="t" style="left:326px;width:82px;top:669.5px;color:#111;">Van Buren</div>
<div class="t" style="left:408px;width:30.6px;top:669.5px;color:#111;">8</div>
<div class="t" style="left:438.6px;width:26px;top:669.5px;color:#111;">30</div>
<div class="t" style="left:464.6px;width:46.4px;top:669.5px;color:#111;">109</div>
<div class="t" style="left:511px;width:74.5px;top:669.5px;color:#111;">4/3/2015</div>
<div class="t" style="left:326px;width:82px;top:686.65px;color:#111;">Harrison</div>
<div class="t" style="left:408px;width:30.6px;top:686.65px;color:#7A4A00;">9</div>
<div class="t" style="left:438.6px;width:26px;top:686.65px;color:#7A4A00;">31</div>
<div class="t" style="left:464.6px;width:46.4px;top:686.65px;color:#fff;font-weight:bold;">113</div>
<div class="t" style="left:511px;width:74.5px;top:686.65px;color:#111;">12/15/2014</div>
<div class="t" style="left:326px;width:82px;top:703.75px;color:#111;">Tyler</div>
<div class="t" style="left:408px;width:30.6px;top:703.75px;color:#111;">10</div>
<div class="t" style="left:438.6px;width:26px;top:703.75px;color:#111;">32</div>
<div class="t" style="left:464.6px;width:46.4px;top:703.75px;color:#111;">127</div>
<div class="t" style="left:511px;width:74.5px;top:703.75px;color:#111;">8/24/2014</div>
<div class="t" style="left:326px;width:82px;top:720.2px;color:#111;">Polk</div>
<div class="t" style="left:408px;width:30.6px;top:720.2px;color:#111;">11</div>
<div class="t" style="left:438.6px;width:26px;top:720.2px;color:#111;">33</div>
<div class="t" style="left:464.6px;width:46.4px;top:720.2px;color:#111;">131</div>
<div class="t" style="left:511px;width:74.5px;top:720.2px;color:#111;">4/19/2014</div>
<div class="t" style="left:326px;width:82px;top:736.2px;color:#111;">Taylor</div>
<div class="t" style="left:408px;width:30.6px;top:736.2px;color:#111;">12</div>
<div class="t" style="left:438.6px;width:26px;top:736.2px;color:#111;">34</div>
<div class="t" style="left:464.6px;width:46.4px;top:736.2px;color:#111;">137</div>
<div class="t" style="left:511px;width:74.5px;top:736.2px;color:#111;">12/9/2013</div>
<div class="t" style="left:326px;width:82px;top:752.15px;color:#111;">Fillmore</div>
<div class="t" style="left:408px;width:30.6px;top:752.15px;color:#111;">13</div>
<div class="t" style="left:438.6px;width:26px;top:752.15px;color:#111;">35</div>
<div class="t" style="left:464.6px;width:46.4px;top:752.15px;color:#111;">139</div>
<div class="t" style="left:511px;width:74.5px;top:752.15px;color:#111;">7/25/2013</div>
<div class="t" style="left:326px;width:82px;top:768.25px;color:#111;">Pierce</div>
<div class="t" style="left:408px;width:30.6px;top:768.25px;color:#111;">14</div>
<div class="t" style="left:438.6px;width:26px;top:768.25px;color:#111;">36</div>
<div class="t" style="left:464.6px;width:46.4px;top:768.25px;color:#111;">149</div>
<div class="t" style="left:511px;width:74.5px;top:768.25px;color:#111;">3/8/2013</div>
<div class="t" style="left:326px;width:82px;top:784.4px;color:#111;">Buchanan</div>
<div class="t" style="left:408px;width:30.6px;top:784.4px;color:#111;">15</div>
<div class="t" style="left:438.6px;width:26px;top:784.4px;color:#111;">37</div>
<div class="t" style="left:464.6px;width:46.4px;top:784.4px;color:#111;">151</div>
<div class="t" style="left:511px;width:74.5px;top:784.4px;color:#111;">10/10/2012</div>
<div class="t" style="left:326px;width:82px;top:800.6px;color:#E2501E;font-weight:bold;">Lincoln</div>
<div class="t" style="left:408px;width:30.6px;top:800.6px;color:#111;">16</div>
<div class="t" style="left:438.6px;width:26px;top:800.6px;color:#111;">38</div>
<div class="t" style="left:464.6px;width:46.4px;top:800.6px;color:#111;">157</div>
<div class="t" style="left:511px;width:74.5px;top:800.6px;color:#111;">5/12/2012</div>
<div class="t" style="left:326px;width:82px;top:816.85px;color:#111;">Johnson</div>
<div class="t" style="left:408px;width:30.6px;top:816.85px;color:#111;">17</div>
<div class="t" style="left:438.6px;width:26px;top:816.85px;color:#111;">39</div>
<div class="t" style="left:464.6px;width:46.4px;top:816.85px;color:#111;font-weight:bold;">163</div>
<div class="t" style="left:511px;width:74.5px;top:816.85px;color:#E2501E;font-weight:bold;">12/7/2011</div>
<div class="r" style="left:407px;top:831px;width:31px;height:19px;background:#FFFFCC"></div>
<div class="r" style="left:406px;top:830px;width:33px;height:2px;background:#000"></div>
<div class="r" style="left:406px;top:832px;width:33px;height:1px;background:rgba(0,0,0,0.20)"></div>
<div class="r" style="left:406px;top:849px;width:33px;height:2px;background:#000"></div>
<div class="r" style="left:406px;top:851px;width:33px;height:1px;background:rgba(0,0,0,0.20)"></div>
<div class="r" style="left:406px;top:830px;width:2px;height:21px;background:#000"></div>
<div class="r" style="left:408px;top:830px;width:1px;height:21px;background:rgba(0,0,0,0.20)"></div>
<div class="r" style="left:437px;top:830px;width:2px;height:21px;background:#000"></div>
<div class="r" style="left:439px;top:830px;width:1px;height:21px;background:rgba(0,0,0,0.20)"></div>
<div class="t" style="left:408px;width:30.6px;top:834.35px;color:#7030A0;font-weight:bold;">153</div>
<div class="r" style="left:438px;top:833px;width:72px;height:355px;background:#fff"></div>
<div class="r" style="left:464px;top:1171px;width:46px;height:17px;background:#00F000"></div>
<div class="r" style="left:437px;top:850px;width:74px;height:1px;background:#000"></div>
<div class="r" style="left:437px;top:866px;width:74px;height:1px;background:#000"></div>
<div class="r" style="left:437px;top:882px;width:74px;height:1px;background:#000"></div>
<div class="r" style="left:437px;top:898px;width:74px;height:1px;background:#000"></div>
<div class="r" style="left:437px;top:914px;width:74px;height:1px;background:#000"></div>
<div class="r" style="left:437px;top:930px;width:74px;height:1px;background:#000"></div>
<div class="r" style="left:437px;top:946px;width:74px;height:1px;background:#000"></div>
<div class="r" style="left:437px;top:962px;width:74px;height:1px;background:#000"></div>
<div class="r" style="left:437px;top:978px;width:74px;height:1px;background:#000"></div>
<div class="r" style="left:437px;top:994px;width:74px;height:1px;background:#000"></div>
<div class="r" style="left:437px;top:1010px;width:74px;height:1px;background:#000"></div>
<div class="r" style="left:437px;top:1026px;width:74px;height:1px;background:#000"></div>
<div class="r" style="left:437px;top:1042px;width:74px;height:1px;background:#000"></div>
<div class="r" style="left:437px;top:1058px;width:74px;height:1px;background:#000"></div>
<div class="r" style="left:437px;top:1074px;width:74px;height:1px;background:#000"></div>
<div class="r" style="left:437px;top:1090px;width:74px;height:1px;background:#000"></div>
<div class="r" style="left:437px;top:1106px;width:74px;height:1px;background:#000"></div>
<div class="r" style="left:437px;top:1122px;width:74px;height:1px;background:#000"></div>
<div class="r" style="left:437px;top:1138px;width:74px;height:1px;background:#000"></div>
<div class="r" style="left:437px;top:1154px;width:74px;height:1px;background:#000"></div>
<div class="r" style="left:437px;top:1171px;width:74px;height:1px;background:#000"></div>
<div class="r" style="left:437px;top:831px;width:74px;height:1px;background:#000"></div>
<div class="r" style="left:437px;top:1188px;width:74px;height:1px;background:#000"></div>
<div class="r" style="left:437px;top:831px;width:1px;height:358px;background:#000"></div>
<div class="r" style="left:510px;top:831px;width:1px;height:358px;background:#000"></div>
<div class="r" style="left:463px;top:831px;width:1px;height:358px;background:#000"></div>
<div class="r" style="left:463px;top:1170px;width:48px;height:2px;background:#000"></div>
<div class="r" style="left:463px;top:1172px;width:48px;height:1px;background:rgba(0,0,0,0.20)"></div>
<div class="r" style="left:463px;top:1187px;width:48px;height:2px;background:#000"></div>
<div class="r" style="left:463px;top:1189px;width:48px;height:1px;background:rgba(0,0,0,0.20)"></div>
<div class="r" style="left:463px;top:1170px;width:2px;height:19px;background:#000"></div>
<div class="r" style="left:465px;top:1170px;width:1px;height:19px;background:rgba(0,0,0,0.20)"></div>
<div class="r" style="left:509px;top:1170px;width:2px;height:19px;background:#000"></div>
<div class="r" style="left:511px;top:1170px;width:1px;height:19px;background:rgba(0,0,0,0.20)"></div>
<div class="t" style="left:438.6px;width:26px;top:834.35px;color:#111;">40</div>
<div class="t" style="left:464.6px;width:46.4px;top:834.35px;color:#111;">167</div>
<div class="t" style="left:438.6px;width:26px;top:851.9px;color:#111;">41</div>
<div class="t" style="left:464.6px;width:46.4px;top:851.9px;color:#111;">173</div>
<div class="t" style="left:438.6px;width:26px;top:868.1px;color:#111;">42</div>
<div class="t" style="left:464.6px;width:46.4px;top:868.1px;color:#111;">179</div>
<div class="t" style="left:438.6px;width:26px;top:884.25px;color:#111;">43</div>
<div class="t" style="left:464.6px;width:46.4px;top:884.25px;color:#111;">181</div>
<div class="t" style="left:438.6px;width:26px;top:900.15px;color:#111;">44</div>
<div class="t" style="left:464.6px;width:46.4px;top:900.15px;color:#111;">191</div>
<div class="t" style="left:438.6px;width:26px;top:916.05px;color:#111;">45</div>
<div class="t" style="left:464.6px;width:46.4px;top:916.05px;color:#111;">193</div>
<div class="t" style="left:438.6px;width:26px;top:932px;color:#111;">46</div>
<div class="t" style="left:464.6px;width:46.4px;top:932px;color:#111;">197</div>
<div class="t" style="left:438.6px;width:26px;top:948px;color:#111;">47</div>
<div class="t" style="left:464.6px;width:46.4px;top:948px;color:#111;">199</div>
<div class="t" style="left:438.6px;width:26px;top:964px;color:#111;">48</div>
<div class="t" style="left:464.6px;width:46.4px;top:964px;color:#111;">211</div>
<div class="t" style="left:438.6px;width:26px;top:980.1px;color:#111;">49</div>
<div class="t" style="left:464.6px;width:46.4px;top:980.1px;color:#111;">223</div>
<div class="t" style="left:438.6px;width:26px;top:996.25px;color:#111;">50</div>
<div class="t" style="left:464.6px;width:46.4px;top:996.25px;color:#111;">227</div>
<div class="t" style="left:438.6px;width:26px;top:1012.1px;color:#111;">51</div>
<div class="t" style="left:464.6px;width:46.4px;top:1012.1px;color:#111;">229</div>
<div class="t" style="left:438.6px;width:26px;top:1028.15px;color:#111;">52</div>
<div class="t" style="left:464.6px;width:46.4px;top:1028.15px;color:#111;">233</div>
<div class="t" style="left:438.6px;width:26px;top:1044.25px;color:#111;">53</div>
<div class="t" style="left:464.6px;width:46.4px;top:1044.25px;color:#111;">239</div>
<div class="t" style="left:438.6px;width:26px;top:1060.15px;color:#111;">54</div>
<div class="t" style="left:464.6px;width:46.4px;top:1060.15px;color:#111;">241</div>
<div class="t" style="left:438.6px;width:26px;top:1076.05px;color:#111;">55</div>
<div class="t" style="left:464.6px;width:46.4px;top:1076.05px;color:#111;">251</div>
<div class="t" style="left:438.6px;width:26px;top:1091.95px;color:#111;">56</div>
<div class="t" style="left:464.6px;width:46.4px;top:1091.95px;color:#111;">257</div>
<div class="t" style="left:438.6px;width:26px;top:1107.9px;color:#111;">57</div>
<div class="t" style="left:464.6px;width:46.4px;top:1107.9px;color:#111;">263</div>
<div class="t" style="left:438.6px;width:26px;top:1123.85px;color:#111;">58</div>
<div class="t" style="left:464.6px;width:46.4px;top:1123.85px;color:#111;">269</div>
<div class="t" style="left:438.6px;width:26px;top:1139.9px;color:#111;">59</div>
<div class="t" style="left:464.6px;width:46.4px;top:1139.9px;color:#111;">271</div>
<div class="t" style="left:438.6px;width:26px;top:1156.4px;color:#111;">60</div>
<div class="t" style="left:464.6px;width:46.4px;top:1156.4px;color:#111;">277</div>
<div class="t" style="left:438.6px;width:26px;top:1173.25px;color:#111;">61</div>
<div class="t" style="left:464.6px;width:46.4px;top:1173.25px;color:#111;">281</div>
<div class="t" style="left:464.6px;width:46.4px;top:1190.2px;color:#111;">Sum</div>
<div class="r" style="left:464px;top:1205px;width:46px;height:17px;background:#FFFF00"></div>
<div class="r" style="left:463px;top:1204px;width:48px;height:2px;background:#000"></div>
<div class="r" style="left:463px;top:1206px;width:48px;height:1px;background:rgba(0,0,0,0.20)"></div>
<div class="r" style="left:463px;top:1221px;width:48px;height:2px;background:#000"></div>
<div class="r" style="left:463px;top:1223px;width:48px;height:1px;background:rgba(0,0,0,0.20)"></div>
<div class="r" style="left:463px;top:1204px;width:2px;height:19px;background:#000"></div>
<div class="r" style="left:465px;top:1204px;width:1px;height:19px;background:rgba(0,0,0,0.20)"></div>
<div class="r" style="left:509px;top:1204px;width:2px;height:19px;background:#000"></div>
<div class="r" style="left:511px;top:1204px;width:1px;height:19px;background:rgba(0,0,0,0.20)"></div>
<div class="t" style="left:464.6px;width:46.4px;top:1207.2px;color:#E8600A;">7700</div>
<div class="r" style="left:615px;top:152px;width:86px;height:229px;background:#FFFF00"></div>
<div class="r" style="left:614px;top:152px;width:87px;height:1px;background:#000"></div>
<div class="r" style="left:614px;top:153px;width:87px;height:1px;background:rgba(0,0,0,0.20)"></div>
<div class="r" style="left:614px;top:381px;width:87px;height:1px;background:#000"></div>
<div class="r" style="left:614px;top:382px;width:87px;height:1px;background:rgba(0,0,0,0.20)"></div>
<div class="r" style="left:614px;top:152px;width:1px;height:230px;background:#000"></div>
<div class="r" style="left:615px;top:152px;width:1px;height:230px;background:rgba(0,0,0,0.20)"></div>
<div class="r" style="left:700px;top:152px;width:1px;height:230px;background:#000"></div>
<div class="r" style="left:701px;top:152px;width:1px;height:230px;background:rgba(0,0,0,0.20)"></div>
<div class="t" style="left:614.5px;width:86px;top:154.6px;font-size:13.5px;transform:scaleX(0.95);-webkit-text-stroke:0.35px currentColor;"><span style="color:#94480C">1/20/2009</span> <span class="n">to</span></div>
<div class="t" style="left:614.5px;width:86px;top:171.53px;font-size:13.5px;transform:scaleX(0.95);-webkit-text-stroke:0.35px currentColor;"><span style="color:#E8650C">1/4/2019</span> <span class="n">=</span></div>
<div class="t" style="left:614.5px;width:86px;top:188.46px;font-size:13.5px;transform:scaleX(0.95);-webkit-text-stroke:0.35px currentColor;"><span style="color:#7A4410">3636</span> <span class="n">Days.</span></div>
<div class="t" style="left:614.5px;width:86px;top:222.32px;font-size:13.5px;transform:scaleX(0.95);-webkit-text-stroke:0.35px currentColor;"><span style="color:#E2501E">113</span> <span style="color:#333">+</span></div>
<div class="t" style="left:614.5px;width:86px;top:239.25px;font-size:13.5px;transform:scaleX(0.95);-webkit-text-stroke:0.35px currentColor;"><span style="color:#E8650C">673</span> <span style="color:#333">+</span></div>
<div class="t" style="left:614.5px;width:86px;top:256.18px;font-size:13.5px;transform:scaleX(0.95);-webkit-text-stroke:0.35px currentColor;"><span style="color:#E2501E">1091</span> <span style="color:#333">+</span></div>
<div class="t" style="left:614.5px;width:86px;top:273.11px;font-size:13.5px;transform:scaleX(0.95);-webkit-text-stroke:0.35px currentColor;"><span style="color:#E2501E">1759</span> <span class="n">=</span></div>
<div class="t" style="left:614.5px;width:86px;top:290.04px;font-size:13.5px;transform:scaleX(0.95);-webkit-text-stroke:0.35px currentColor;"><span style="color:#7A4410">3636</span></div>
<div class="t" style="left:614.5px;width:86px;top:323.9px;font-size:13.5px;transform:scaleX(0.95);-webkit-text-stroke:0.35px currentColor;"><span style="color:#7A4410">3636 +</span></div>
<div class="t" style="left:614.5px;width:86px;top:340.83px;font-size:13.5px;transform:scaleX(0.95);-webkit-text-stroke:0.35px currentColor;"><span style="color:#5A2070">888</span> <span style="color:#7A4410">=</span></div>
<div class="t" style="left:614.5px;width:86px;top:357.76px;font-size:13.5px;transform:scaleX(0.95);-webkit-text-stroke:0.35px currentColor;"><span style="color:#E2501E">4524</span></div>
<div class="r" style="left:596px;top:194px;width:19px;height:1px;background:#000"></div>
<div class="r" style="left:596px;top:195px;width:19px;height:1px;background:rgba(0,0,0,0.20)"></div>
<svg class="r" style="left:588px;top:189px" width="12" height="12"><path d="M1.2 5.5 L9.2 1.6 L9.2 9.4 Z" fill="#000"/></svg>
<div class="r" style="left:761px;top:137px;width:46px;height:47px;background:#fff"></div>
<div class="r" style="left:760px;top:136px;width:48px;height:1px;background:#000"></div>
<div class="r" style="left:760px;top:167px;width:48px;height:1px;background:#000"></div>
<div class="r" style="left:760px;top:136px;width:1px;height:32px;background:#000"></div>
<div class="r" style="left:807px;top:136px;width:1px;height:32px;background:#000"></div>
<div class="r" style="left:760px;top:167px;width:48px;height:1px;background:#000"></div>
<div class="r" style="left:760px;top:184px;width:48px;height:1px;background:#000"></div>
<div class="r" style="left:760px;top:167px;width:1px;height:18px;background:#000"></div>
<div class="r" style="left:807px;top:167px;width:1px;height:18px;background:#000"></div>
<div class="t" style="left:761.5px;width:46.8px;top:137.6px;color:#111;font-size:10.3px;">Column</div>
<div class="t" style="left:761.5px;width:46.8px;top:152.6px;color:#111;">2</div>
<div class="t" style="left:761.5px;width:46.8px;top:169.3px;color:#111;">Primes</div>
<div class="r" style="left:734px;top:184px;width:73px;height:367px;background:#fff"></div>
<div class="r" style="left:761px;top:367px;width:46px;height:34px;background:#FFFF00"></div>
<div class="r" style="left:734px;top:401px;width:73px;height:17px;background:#FFCCFF"></div>
<div class="r" style="left:733px;top:202px;width:75px;height:1px;background:#000"></div>
<div class="r" style="left:733px;top:218px;width:75px;height:1px;background:#000"></div>
<div class="r" style="left:733px;top:234px;width:75px;height:1px;background:#000"></div>
<div class="r" style="left:733px;top:251px;width:75px;height:1px;background:#000"></div>
<div class="r" style="left:733px;top:268px;width:75px;height:1px;background:#000"></div>
<div class="r" style="left:733px;top:284px;width:75px;height:1px;background:#000"></div>
<div class="r" style="left:733px;top:301px;width:75px;height:1px;background:#000"></div>
<div class="r" style="left:733px;top:318px;width:75px;height:1px;background:#000"></div>
<div class="r" style="left:733px;top:334px;width:75px;height:1px;background:#000"></div>
<div class="r" style="left:733px;top:350px;width:75px;height:1px;background:#000"></div>
<div class="r" style="left:733px;top:366px;width:75px;height:1px;background:#000"></div>
<div class="r" style="left:733px;top:383px;width:75px;height:1px;background:#000"></div>
<div class="r" style="left:733px;top:400px;width:75px;height:1px;background:#000"></div>
<div class="r" style="left:733px;top:417px;width:75px;height:1px;background:#000"></div>
<div class="r" style="left:733px;top:434px;width:75px;height:1px;background:#000"></div>
<div class="r" style="left:733px;top:450px;width:75px;height:1px;background:#000"></div>
<div class="r" style="left:733px;top:467px;width:75px;height:1px;background:#000"></div>
<div class="r" style="left:733px;top:484px;width:75px;height:1px;background:#000"></div>
<div class="r" style="left:733px;top:501px;width:75px;height:1px;background:#000"></div>
<div class="r" style="left:733px;top:518px;width:75px;height:1px;background:#000"></div>
<div class="r" style="left:733px;top:534px;width:75px;height:1px;background:#000"></div>
<div class="r" style="left:733px;top:184px;width:75px;height:1px;background:#000"></div>
<div class="r" style="left:733px;top:550px;width:75px;height:1px;background:#000"></div>
<div class="r" style="left:733px;top:184px;width:1px;height:367px;background:#000"></div>
<div class="r" style="left:807px;top:184px;width:1px;height:367px;background:#000"></div>
<div class="r" style="left:760px;top:184px;width:1px;height:367px;background:#000"></div>
<div class="r" style="left:760px;top:366px;width:48px;height:2px;background:#000"></div>
<div class="r" style="left:760px;top:368px;width:48px;height:1px;background:rgba(0,0,0,0.20)"></div>
<div class="r" style="left:760px;top:400px;width:48px;height:2px;background:#000"></div>
<div class="r" style="left:760px;top:402px;width:48px;height:1px;background:rgba(0,0,0,0.20)"></div>
<div class="r" style="left:760px;top:366px;width:2px;height:36px;background:#000"></div>
<div class="r" style="left:762px;top:366px;width:1px;height:36px;background:rgba(0,0,0,0.20)"></div>
<div class="r" style="left:806px;top:366px;width:2px;height:36px;background:#000"></div>
<div class="r" style="left:808px;top:366px;width:1px;height:36px;background:rgba(0,0,0,0.20)"></div>
<div class="r" style="left:733px;top:400px;width:75px;height:2px;background:#000"></div>
<div class="r" style="left:733px;top:402px;width:75px;height:1px;background:rgba(0,0,0,0.20)"></div>
<div class="r" style="left:733px;top:417px;width:75px;height:2px;background:#000"></div>
<div class="r" style="left:733px;top:419px;width:75px;height:1px;background:rgba(0,0,0,0.20)"></div>
<div class="t" style="left:734.5px;width:27px;top:186.7px;color:#111;">62</div>
<div class="t" style="left:761.5px;width:46.8px;top:186.7px;color:#111;">283</div>
<div class="t" style="left:734.5px;width:27px;top:203.85px;color:#111;">63</div>
<div class="t" style="left:761.5px;width:46.8px;top:203.85px;color:#111;">293</div>
<div class="t" style="left:734.5px;width:27px;top:220.05px;color:#111;">64</div>
<div class="t" style="left:761.5px;width:46.8px;top:220.05px;color:#111;">307</div>
<div class="t" style="left:734.5px;width:27px;top:236.5px;color:#111;">65</div>
<div class="t" style="left:761.5px;width:46.8px;top:236.5px;color:#111;">311</div>
<div class="t" style="left:734.5px;width:27px;top:253.3px;color:#111;">66</div>
<div class="t" style="left:761.5px;width:46.8px;top:253.3px;color:#111;">313</div>
<div class="t" style="left:734.5px;width:27px;top:270.15px;color:#111;">67</div>
<div class="t" style="left:761.5px;width:46.8px;top:270.15px;color:#111;">317</div>
<div class="t" style="left:734.5px;width:27px;top:287.05px;color:#111;">68</div>
<div class="t" style="left:761.5px;width:46.8px;top:287.05px;color:#111;">331</div>
<div class="t" style="left:734.5px;width:27px;top:303.6px;color:#111;">69</div>
<div class="t" style="left:761.5px;width:46.8px;top:303.6px;color:#111;">337</div>
<div class="t" style="left:734.5px;width:27px;top:319.8px;color:#111;">70</div>
<div class="t" style="left:761.5px;width:46.8px;top:319.8px;color:#111;">347</div>
<div class="t" style="left:734.5px;width:27px;top:335.95px;color:#111;">71</div>
<div class="t" style="left:761.5px;width:46.8px;top:335.95px;color:#111;">349</div>
<div class="t" style="left:734.5px;width:27px;top:352.15px;color:#111;">72</div>
<div class="t" style="left:761.5px;width:46.8px;top:352.15px;color:#111;">353</div>
<div class="t" style="left:734.5px;width:27px;top:368.75px;color:#111;">73</div>
<div class="t" style="left:761.5px;width:46.8px;top:368.75px;color:#111;font-weight:bold;">359</div>
<div class="t" style="left:734.5px;width:27px;top:385.85px;color:#111;">74</div>
<div class="t" style="left:761.5px;width:46.8px;top:385.85px;color:#111;font-weight:bold;">367</div>
<div class="t" style="left:734.5px;width:27px;top:403.05px;color:#111;">75</div>
<div class="t" style="left:761.5px;width:46.8px;top:403.05px;color:#E2501E;">373</div>
<div class="t" style="left:734.5px;width:27px;top:419.85px;color:#111;">76</div>
<div class="t" style="left:761.5px;width:46.8px;top:419.85px;color:#111;">379</div>
<div class="t" style="left:734.5px;width:27px;top:436.2px;color:#111;">77</div>
<div class="t" style="left:761.5px;width:46.8px;top:436.2px;color:#111;">383</div>
<div class="t" style="left:734.5px;width:27px;top:452.65px;color:#111;">78</div>
<div class="t" style="left:761.5px;width:46.8px;top:452.65px;color:#111;">389</div>
<div class="t" style="left:734.5px;width:27px;top:469.55px;color:#111;">79</div>
<div class="t" style="left:761.5px;width:46.8px;top:469.55px;color:#111;">397</div>
<div class="t" style="left:734.5px;width:27px;top:486.55px;color:#111;">80</div>
<div class="t" style="left:761.5px;width:46.8px;top:486.55px;color:#111;">401</div>
<div class="t" style="left:734.5px;width:27px;top:503.55px;color:#111;">81</div>
<div class="t" style="left:761.5px;width:46.8px;top:503.55px;color:#111;">409</div>
<div class="t" style="left:734.5px;width:27px;top:520.15px;color:#111;">82</div>
<div class="t" style="left:761.5px;width:46.8px;top:520.15px;color:#111;">419</div>
<div class="t" style="left:734.5px;width:27px;top:536.3px;color:#111;">83</div>
<div class="t" style="left:761.5px;width:46.8px;top:536.3px;color:#111;">421</div>
<div class="r" style="left:625px;top:551px;width:136px;height:280px;background:#FFFFCC"></div>
<div class="r" style="left:761px;top:551px;width:46px;height:280px;background:#FFFF00"></div>
<div class="r" style="left:807px;top:551px;width:75px;height:280px;background:#DAF7FC"></div>
<div class="r" style="left:761px;top:551px;width:46px;height:18px;background:#FF6600"></div>
<div class="r" style="left:807px;top:551px;width:75px;height:18px;background:#FFFF00"></div>
<div class="r" style="left:707px;top:684px;width:54px;height:18px;background:#FFFF00"></div>
<div class="r" style="left:807px;top:684px;width:75px;height:18px;background:#FFFF00"></div>
<div class="r" style="left:761px;top:815px;width:46px;height:16px;background:#FF6600"></div>
<div class="r" style="left:707px;top:569px;width:175px;height:1px;background:#000"></div>
<div class="r" style="left:707px;top:585px;width:175px;height:1px;background:#000"></div>
<div class="r" style="left:707px;top:601px;width:175px;height:1px;background:#000"></div>
<div class="r" style="left:707px;top:617px;width:175px;height:1px;background:#000"></div>
<div class="r" style="left:707px;top:634px;width:175px;height:1px;background:#000"></div>
<div class="r" style="left:707px;top:650px;width:175px;height:1px;background:#000"></div>
<div class="r" style="left:707px;top:667px;width:175px;height:1px;background:#000"></div>
<div class="r" style="left:707px;top:684px;width:175px;height:1px;background:#000"></div>
<div class="r" style="left:707px;top:701px;width:175px;height:1px;background:#000"></div>
<div class="r" style="left:707px;top:718px;width:175px;height:1px;background:#000"></div>
<div class="r" style="left:707px;top:734px;width:175px;height:1px;background:#000"></div>
<div class="r" style="left:707px;top:750px;width:175px;height:1px;background:#000"></div>
<div class="r" style="left:707px;top:766px;width:175px;height:1px;background:#000"></div>
<div class="r" style="left:707px;top:782px;width:175px;height:1px;background:#000"></div>
<div class="r" style="left:707px;top:798px;width:175px;height:1px;background:#000"></div>
<div class="r" style="left:707px;top:815px;width:175px;height:1px;background:#000"></div>
<div class="r" style="left:706px;top:550px;width:2px;height:282px;background:#000"></div>
<div class="r" style="left:733px;top:550px;width:1px;height:282px;background:#000"></div>
<div class="r" style="left:734px;top:550px;width:1px;height:282px;background:rgba(0,0,0,0.50)"></div>
<div class="r" style="left:760px;top:550px;width:1px;height:282px;background:#000"></div>
<div class="r" style="left:761px;top:550px;width:1px;height:282px;background:rgba(0,0,0,0.50)"></div>
<div class="r" style="left:807px;top:550px;width:1px;height:282px;background:#000"></div>
<div class="r" style="left:808px;top:550px;width:1px;height:282px;background:rgba(0,0,0,0.50)"></div>
<div class="r" style="left:624px;top:550px;width:259px;height:2px;background:#000"></div>
<div class="r" style="left:624px;top:552px;width:259px;height:1px;background:rgba(0,0,0,0.20)"></div>
<div class="r" style="left:624px;top:830px;width:259px;height:2px;background:#000"></div>
<div class="r" style="left:624px;top:832px;width:259px;height:1px;background:rgba(0,0,0,0.20)"></div>
<div class="r" style="left:624px;top:550px;width:2px;height:282px;background:#000"></div>
<div class="r" style="left:626px;top:550px;width:1px;height:282px;background:rgba(0,0,0,0.20)"></div>
<div class="r" style="left:881px;top:550px;width:2px;height:282px;background:#000"></div>
<div class="r" style="left:883px;top:550px;width:1px;height:282px;background:rgba(0,0,0,0.20)"></div>
<div class="r" style="left:760px;top:550px;width:48px;height:2px;background:#000"></div>
<div class="r" style="left:760px;top:552px;width:48px;height:1px;background:rgba(0,0,0,0.20)"></div>
<div class="r" style="left:760px;top:568px;width:48px;height:2px;background:#000"></div>
<div class="r" style="left:760px;top:570px;width:48px;height:1px;background:rgba(0,0,0,0.20)"></div>
<div class="r" style="left:760px;top:550px;width:2px;height:20px;background:#000"></div>
<div class="r" style="left:762px;top:550px;width:1px;height:20px;background:rgba(0,0,0,0.20)"></div>
<div class="r" style="left:806px;top:550px;width:2px;height:20px;background:#000"></div>
<div class="r" style="left:808px;top:550px;width:1px;height:20px;background:rgba(0,0,0,0.20)"></div>
<div class="r" style="left:706px;top:683px;width:177px;height:2px;background:#000"></div>
<div class="r" style="left:706px;top:685px;width:177px;height:1px;background:rgba(0,0,0,0.20)"></div>
<div class="r" style="left:706px;top:701px;width:177px;height:2px;background:#000"></div>
<div class="r" style="left:706px;top:703px;width:177px;height:1px;background:rgba(0,0,0,0.20)"></div>
<div class="r" style="left:760px;top:814px;width:48px;height:2px;background:#000"></div>
<div class="r" style="left:760px;top:816px;width:48px;height:1px;background:rgba(0,0,0,0.20)"></div>
<div class="r" style="left:760px;top:830px;width:48px;height:2px;background:#000"></div>
<div class="r" style="left:760px;top:832px;width:48px;height:1px;background:rgba(0,0,0,0.20)"></div>
<div class="r" style="left:760px;top:814px;width:2px;height:18px;background:#000"></div>
<div class="r" style="left:762px;top:814px;width:1px;height:18px;background:rgba(0,0,0,0.20)"></div>
<div class="r" style="left:806px;top:814px;width:2px;height:18px;background:#000"></div>
<div class="r" style="left:808px;top:814px;width:1px;height:18px;background:rgba(0,0,0,0.20)"></div>
<div class="t" style="left:625.9px;width:82.1px;top:553.6px;color:#111;">Grant</div>
<div class="t" style="left:708px;width:26.5px;top:553.6px;color:#111;">18</div>
<div class="t" style="left:734.5px;width:27px;top:553.6px;color:#111;">84</div>
<div class="t" style="left:761.5px;width:46.8px;top:553.6px;color:#fff;font-weight:bold;">431</div>
<div class="t" style="left:808.3px;width:74.2px;top:553.6px;color:#7A2A6A;font-weight:bold;">6/27/2011</div>
<div class="t" style="left:625.9px;width:82.1px;top:570.85px;color:#111;">Hayes</div>
<div class="t" style="left:708px;width:26.5px;top:570.85px;color:#111;">19</div>
<div class="t" style="left:734.5px;width:27px;top:570.85px;color:#111;">85</div>
<div class="t" style="left:761.5px;width:46.8px;top:570.85px;color:#111;">433</div>
<div class="t" style="left:808.3px;width:74.2px;top:570.85px;color:#111;">4/22/2010</div>
<div class="t" style="left:625.9px;width:82.1px;top:587px;color:#E2501E;font-weight:bold;">Garfield</div>
<div class="t" style="left:708px;width:26.5px;top:587px;color:#111;">20</div>
<div class="t" style="left:734.5px;width:27px;top:587px;color:#111;">86</div>
<div class="t" style="left:761.5px;width:46.8px;top:587px;color:#111;">439</div>
<div class="t" style="left:808.3px;width:74.2px;top:587px;color:#111;">2/13/2009</div>
<div class="t" style="left:625.9px;width:82.1px;top:603.15px;color:#111;">Arthur</div>
<div class="t" style="left:708px;width:26.5px;top:603.15px;color:#111;">21</div>
<div class="t" style="left:734.5px;width:27px;top:603.15px;color:#111;">87</div>
<div class="t" style="left:761.5px;width:46.8px;top:603.15px;color:#111;">443</div>
<div class="t" style="left:808.3px;width:74.2px;top:603.15px;color:#111;">12/2/2007</div>
<div class="t" style="left:625.9px;width:82.1px;top:619.6px;color:#111;">Cleveland</div>
<div class="t" style="left:708px;width:26.5px;top:619.6px;color:#111;">22</div>
<div class="t" style="left:734.5px;width:27px;top:619.6px;color:#111;">88</div>
<div class="t" style="left:761.5px;width:46.8px;top:619.6px;color:#111;">449</div>
<div class="t" style="left:808.3px;width:74.2px;top:619.6px;color:#111;">9/15/2006</div>
<div class="t" style="left:625.9px;width:82.1px;top:636.1px;color:#111;">Harrison</div>
<div class="t" style="left:708px;width:26.5px;top:636.1px;color:#111;">23</div>
<div class="t" style="left:734.5px;width:27px;top:636.1px;color:#111;">89</div>
<div class="t" style="left:761.5px;width:46.8px;top:636.1px;color:#111;">457</div>
<div class="t" style="left:808.3px;width:74.2px;top:636.1px;color:#111;">6/23/2005</div>
<div class="t" style="left:625.9px;width:82.1px;top:652.6px;color:#E2501E;font-weight:bold;">McKinley</div>
<div class="t" style="left:708px;width:26.5px;top:652.6px;color:#111;">24</div>
<div class="t" style="left:734.5px;width:27px;top:652.6px;color:#111;">90</div>
<div class="t" style="left:761.5px;width:46.8px;top:652.6px;color:#111;">461</div>
<div class="t" style="left:808.3px;width:74.2px;top:652.6px;color:#111;">3/23/2004</div>
<div class="t" style="left:625.9px;width:82.1px;top:669.5px;color:#111;">Roosevelt</div>
<div class="t" style="left:708px;width:26.5px;top:669.5px;color:#111;">25</div>
<div class="t" style="left:734.5px;width:27px;top:669.5px;color:#111;">91</div>
<div class="t" style="left:761.5px;width:46.8px;top:669.5px;color:#111;">463</div>
<div class="t" style="left:808.3px;width:74.2px;top:669.5px;color:#111;">12/18/2002</div>
<div class="t" style="left:625.9px;width:82.1px;top:686.65px;color:#111;">Taft</div>
<div class="t" style="left:708px;width:26.5px;top:686.65px;color:#111;">26</div>
<div class="t" style="left:734.5px;width:27px;top:686.65px;color:#111;">92</div>
<div class="t" style="left:761.5px;width:46.8px;top:686.65px;color:#7030A0;font-weight:bold;">467</div>
<div class="t" style="left:808.3px;width:74.2px;top:686.65px;color:#E2501E;font-weight:bold;">9/11/2001</div>
<div class="t" style="left:625.9px;width:82.1px;top:703.75px;color:#111;">Wilson</div>
<div class="t" style="left:708px;width:26.5px;top:703.75px;color:#111;">27</div>
<div class="t" style="left:734.5px;width:27px;top:703.75px;color:#111;">93</div>
<div class="t" style="left:761.5px;width:46.8px;top:703.75px;color:#111;">479</div>
<div class="t" style="left:808.3px;width:74.2px;top:703.75px;color:#111;">6/1/2000</div>
<div class="t" style="left:625.9px;width:82.1px;top:720.2px;color:#111;">Harding</div>
<div class="t" style="left:708px;width:26.5px;top:720.2px;color:#111;">28</div>
<div class="t" style="left:734.5px;width:27px;top:720.2px;color:#111;">94</div>
<div class="t" style="left:761.5px;width:46.8px;top:720.2px;color:#111;">487</div>
<div class="t" style="left:808.3px;width:74.2px;top:720.2px;color:#111;">2/8/1999</div>
<div class="t" style="left:625.9px;width:82.1px;top:736.2px;color:#111;">Coolidge</div>
<div class="t" style="left:708px;width:26.5px;top:736.2px;color:#111;">29</div>
<div class="t" style="left:734.5px;width:27px;top:736.2px;color:#111;">95</div>
<div class="t" style="left:761.5px;width:46.8px;top:736.2px;color:#111;">491</div>
<div class="t" style="left:808.3px;width:74.2px;top:736.2px;color:#111;">10/9/1997</div>
<div class="t" style="left:625.9px;width:82.1px;top:752.15px;color:#111;">Hoover</div>
<div class="t" style="left:708px;width:26.5px;top:752.15px;color:#111;">30</div>
<div class="t" style="left:734.5px;width:27px;top:752.15px;color:#111;">96</div>
<div class="t" style="left:761.5px;width:46.8px;top:752.15px;color:#111;">499</div>
<div class="t" style="left:808.3px;width:74.2px;top:752.15px;color:#111;">6/5/1996</div>
<div class="t" style="left:625.9px;width:82.1px;top:768.25px;color:#111;">FDR</div>
<div class="t" style="left:708px;width:26.5px;top:768.25px;color:#111;">31</div>
<div class="t" style="left:734.5px;width:27px;top:768.25px;color:#111;">97</div>
<div class="t" style="left:761.5px;width:46.8px;top:768.25px;color:#111;">503</div>
<div class="t" style="left:808.3px;width:74.2px;top:768.25px;color:#111;">1/23/1995</div>
<div class="t" style="left:625.9px;width:82.1px;top:784.4px;color:#111;">Truman</div>
<div class="t" style="left:708px;width:26.5px;top:784.4px;color:#111;">32</div>
<div class="t" style="left:734.5px;width:27px;top:784.4px;color:#111;">98</div>
<div class="t" style="left:761.5px;width:46.8px;top:784.4px;color:#111;">509</div>
<div class="t" style="left:808.3px;width:74.2px;top:784.4px;color:#111;">9/7/1993</div>
<div class="t" style="left:625.9px;width:82.1px;top:800.6px;color:#111;">Eisenhower</div>
<div class="t" style="left:708px;width:26.5px;top:800.6px;color:#111;">33</div>
<div class="t" style="left:734.5px;width:27px;top:800.6px;color:#111;">99</div>
<div class="t" style="left:761.5px;width:46.8px;top:800.6px;color:#111;">521</div>
<div class="t" style="left:808.3px;width:74.2px;top:800.6px;color:#111;">4/16/1992</div>
<div class="t" style="left:625.9px;width:82.1px;top:816.85px;color:#E2501E;font-weight:bold;">Kennedy</div>
<div class="t" style="left:708px;width:26.5px;top:816.85px;color:#111;">34</div>
<div class="t" style="left:734.5px;width:27px;top:816.85px;color:#111;">100</div>
<div class="t" style="left:761.5px;width:46.8px;top:816.85px;color:#fff;font-weight:bold;">523</div>
<div class="t" style="left:808.3px;width:74.2px;top:816.85px;color:#111;">11/12/1990</div>
<div class="r" style="left:734px;top:833px;width:73px;height:355px;background:#fff"></div>
<div class="r" style="left:733px;top:850px;width:75px;height:1px;background:#000"></div>
<div class="r" style="left:733px;top:866px;width:75px;height:1px;background:#000"></div>
<div class="r" style="left:733px;top:882px;width:75px;height:1px;background:#000"></div>
<div class="r" style="left:733px;top:898px;width:75px;height:1px;background:#000"></div>
<div class="r" style="left:733px;top:914px;width:75px;height:1px;background:#000"></div>
<div class="r" style="left:733px;top:930px;width:75px;height:1px;background:#000"></div>
<div class="r" style="left:733px;top:946px;width:75px;height:1px;background:#000"></div>
<div class="r" style="left:733px;top:962px;width:75px;height:1px;background:#000"></div>
<div class="r" style="left:733px;top:978px;width:75px;height:1px;background:#000"></div>
<div class="r" style="left:733px;top:994px;width:75px;height:1px;background:#000"></div>
<div class="r" style="left:733px;top:1010px;width:75px;height:1px;background:#000"></div>
<div class="r" style="left:733px;top:1026px;width:75px;height:1px;background:#000"></div>
<div class="r" style="left:733px;top:1042px;width:75px;height:1px;background:#000"></div>
<div class="r" style="left:733px;top:1058px;width:75px;height:1px;background:#000"></div>
<div class="r" style="left:733px;top:1074px;width:75px;height:1px;background:#000"></div>
<div class="r" style="left:733px;top:1090px;width:75px;height:1px;background:#000"></div>
<div class="r" style="left:733px;top:1106px;width:75px;height:1px;background:#000"></div>
<div class="r" style="left:733px;top:1122px;width:75px;height:1px;background:#000"></div>
<div class="r" style="left:733px;top:1138px;width:75px;height:1px;background:#000"></div>
<div class="r" style="left:733px;top:1154px;width:75px;height:1px;background:#000"></div>
<div class="r" style="left:733px;top:1171px;width:75px;height:1px;background:#000"></div>
<div class="r" style="left:733px;top:831px;width:75px;height:1px;background:#000"></div>
<div class="r" style="left:733px;top:1188px;width:75px;height:1px;background:#000"></div>
<div class="r" style="left:733px;top:831px;width:1px;height:358px;background:#000"></div>
<div class="r" style="left:807px;top:831px;width:1px;height:358px;background:#000"></div>
<div class="r" style="left:760px;top:831px;width:1px;height:358px;background:#000"></div>
<div class="t" style="left:734.5px;width:27px;top:834.35px;color:#111;">101</div>
<div class="t" style="left:761.5px;width:46.8px;top:834.35px;color:#111;">541</div>
<div class="t" style="left:734.5px;width:27px;top:851.9px;color:#111;">102</div>
<div class="t" style="left:761.5px;width:46.8px;top:851.9px;color:#111;">547</div>
<div class="t" style="left:734.5px;width:27px;top:868.1px;color:#111;">103</div>
<div class="t" style="left:761.5px;width:46.8px;top:868.1px;color:#111;">557</div>
<div class="t" style="left:734.5px;width:27px;top:884.25px;color:#111;">104</div>
<div class="t" style="left:761.5px;width:46.8px;top:884.25px;color:#111;">563</div>
<div class="t" style="left:734.5px;width:27px;top:900.15px;color:#111;">105</div>
<div class="t" style="left:761.5px;width:46.8px;top:900.15px;color:#111;">569</div>
<div class="t" style="left:734.5px;width:27px;top:916.05px;color:#111;">106</div>
<div class="t" style="left:761.5px;width:46.8px;top:916.05px;color:#111;">571</div>
<div class="t" style="left:734.5px;width:27px;top:932px;color:#111;">107</div>
<div class="t" style="left:761.5px;width:46.8px;top:932px;color:#111;">577</div>
<div class="t" style="left:734.5px;width:27px;top:948px;color:#111;">108</div>
<div class="t" style="left:761.5px;width:46.8px;top:948px;color:#111;">587</div>
<div class="t" style="left:734.5px;width:27px;top:964px;color:#111;">109</div>
<div class="t" style="left:761.5px;width:46.8px;top:964px;color:#111;">593</div>
<div class="t" style="left:734.5px;width:27px;top:980.1px;color:#111;">110</div>
<div class="t" style="left:761.5px;width:46.8px;top:980.1px;color:#111;">599</div>
<div class="t" style="left:734.5px;width:27px;top:996.25px;color:#111;">111</div>
<div class="t" style="left:761.5px;width:46.8px;top:996.25px;color:#111;">601</div>
<div class="t" style="left:734.5px;width:27px;top:1012.1px;color:#111;">112</div>
<div class="t" style="left:761.5px;width:46.8px;top:1012.1px;color:#111;">607</div>
<div class="t" style="left:734.5px;width:27px;top:1028.15px;color:#111;">113</div>
<div class="t" style="left:761.5px;width:46.8px;top:1028.15px;color:#111;">613</div>
<div class="t" style="left:734.5px;width:27px;top:1044.25px;color:#111;">114</div>
<div class="t" style="left:761.5px;width:46.8px;top:1044.25px;color:#111;">617</div>
<div class="t" style="left:734.5px;width:27px;top:1060.15px;color:#111;">115</div>
<div class="t" style="left:761.5px;width:46.8px;top:1060.15px;color:#111;">619</div>
<div class="t" style="left:734.5px;width:27px;top:1076.05px;color:#111;">116</div>
<div class="t" style="left:761.5px;width:46.8px;top:1076.05px;color:#111;">631</div>
<div class="t" style="left:734.5px;width:27px;top:1091.95px;color:#111;">117</div>
<div class="t" style="left:761.5px;width:46.8px;top:1091.95px;color:#111;">641</div>
<div class="t" style="left:734.5px;width:27px;top:1107.9px;color:#111;">118</div>
<div class="t" style="left:761.5px;width:46.8px;top:1107.9px;color:#111;">643</div>
<div class="t" style="left:734.5px;width:27px;top:1123.85px;color:#111;">119</div>
<div class="t" style="left:761.5px;width:46.8px;top:1123.85px;color:#111;">647</div>
<div class="t" style="left:734.5px;width:27px;top:1139.9px;color:#111;">120</div>
<div class="t" style="left:761.5px;width:46.8px;top:1139.9px;color:#111;">653</div>
<div class="t" style="left:734.5px;width:27px;top:1156.4px;color:#111;">121</div>
<div class="t" style="left:761.5px;width:46.8px;top:1156.4px;color:#111;">659</div>
<div class="t" style="left:734.5px;width:27px;top:1173.25px;color:#111;">122</div>
<div class="t" style="left:761.5px;width:46.8px;top:1173.25px;color:#111;">661</div>
<div class="r" style="left:836px;top:468px;width:86px;height:56px;background:#FFFF00"></div>
<div class="r" style="left:835px;top:468px;width:87px;height:1px;background:#000"></div>
<div class="r" style="left:835px;top:469px;width:87px;height:1px;background:rgba(0,0,0,0.20)"></div>
<div class="r" style="left:835px;top:524px;width:87px;height:1px;background:#000"></div>
<div class="r" style="left:835px;top:525px;width:87px;height:1px;background:rgba(0,0,0,0.20)"></div>
<div class="r" style="left:835px;top:468px;width:1px;height:57px;background:#000"></div>
<div class="r" style="left:836px;top:468px;width:1px;height:57px;background:rgba(0,0,0,0.20)"></div>
<div class="r" style="left:921px;top:468px;width:1px;height:57px;background:#000"></div>
<div class="r" style="left:922px;top:468px;width:1px;height:57px;background:rgba(0,0,0,0.20)"></div>
<div class="t" style="left:835.6px;width:85.9px;top:470px;font-size:13.5px;transform:scaleX(0.95);-webkit-text-stroke:0.35px currentColor;"><span style="color:#94480C">1/20/2009</span> <span class="n">to</span></div>
<div class="t" style="left:835.6px;width:85.9px;top:487px;font-size:13.5px;transform:scaleX(0.95);-webkit-text-stroke:0.35px currentColor;"><span style="color:#6A2A70">6/27/2011</span> <span class="n">=</span></div>
<div class="t" style="left:835.6px;width:85.9px;top:504px;font-size:13.5px;transform:scaleX(0.95);-webkit-text-stroke:0.35px currentColor;"><span style="color:#7030A0">888</span> <span class="n">Days</span></div>
<div class="r" style="left:860px;top:524px;width:1px;height:18px;background:#000"></div>
<div class="r" style="left:861px;top:524px;width:1px;height:18px;background:rgba(0,0,0,0.20)"></div>
<svg class="r" style="left:855px;top:538px" width="12" height="12"><path d="M2 1.8 L9.5 1.8 L5.75 9 Z" fill="#000"/></svg>
<div class="r" style="left:1070px;top:137px;width:48px;height:47px;background:#fff"></div>
<div class="r" style="left:1070px;top:136px;width:48px;height:1px;background:#000"></div>
<div class="r" style="left:1070px;top:167px;width:48px;height:1px;background:#000"></div>
<div class="r" style="left:1070px;top:136px;width:1px;height:32px;background:#000"></div>
<div class="r" style="left:1117px;top:136px;width:1px;height:32px;background:#000"></div>
<div class="r" style="left:1070px;top:167px;width:48px;height:1px;background:#000"></div>
<div class="r" style="left:1070px;top:184px;width:48px;height:1px;background:#000"></div>
<div class="r" style="left:1070px;top:167px;width:1px;height:18px;background:#000"></div>
<div class="r" style="left:1117px;top:167px;width:1px;height:18px;background:#000"></div>
<div class="t" style="left:1071px;width:47.5px;top:137.6px;color:#111;font-size:10.3px;">Column</div>
<div class="t" style="left:1071px;width:47.5px;top:152.6px;color:#111;">3</div>
<div class="t" style="left:1071px;width:47.5px;top:169.3px;color:#111;">Primes</div>
<div class="r" style="left:1044px;top:184px;width:74px;height:367px;background:#fff"></div>
<div class="r" style="left:1070px;top:184px;width:48px;height:18px;background:#FF3300"></div>
<div class="r" style="left:1070px;top:367px;width:48px;height:34px;background:#FFFF00"></div>
<div class="r" style="left:1044px;top:401px;width:74px;height:17px;background:#FFCCFF"></div>
<div class="r" style="left:1043px;top:202px;width:75px;height:1px;background:#000"></div>
<div class="r" style="left:1043px;top:218px;width:75px;height:1px;background:#000"></div>
<div class="r" style="left:1043px;top:234px;width:75px;height:1px;background:#000"></div>
<div class="r" style="left:1043px;top:251px;width:75px;height:1px;background:#000"></div>
<div class="r" style="left:1043px;top:268px;width:75px;height:1px;background:#000"></div>
<div class="r" style="left:1043px;top:284px;width:75px;height:1px;background:#000"></div>
<div class="r" style="left:1043px;top:301px;width:75px;height:1px;background:#000"></div>
<div class="r" style="left:1043px;top:318px;width:75px;height:1px;background:#000"></div>
<div class="r" style="left:1043px;top:334px;width:75px;height:1px;background:#000"></div>
<div class="r" style="left:1043px;top:350px;width:75px;height:1px;background:#000"></div>
<div class="r" style="left:1043px;top:366px;width:75px;height:1px;background:#000"></div>
<div class="r" style="left:1043px;top:383px;width:75px;height:1px;background:#000"></div>
<div class="r" style="left:1043px;top:400px;width:75px;height:1px;background:#000"></div>
<div class="r" style="left:1043px;top:417px;width:75px;height:1px;background:#000"></div>
<div class="r" style="left:1043px;top:434px;width:75px;height:1px;background:#000"></div>
<div class="r" style="left:1043px;top:450px;width:75px;height:1px;background:#000"></div>
<div class="r" style="left:1043px;top:467px;width:75px;height:1px;background:#000"></div>
<div class="r" style="left:1043px;top:484px;width:75px;height:1px;background:#000"></div>
<div class="r" style="left:1043px;top:501px;width:75px;height:1px;background:#000"></div>
<div class="r" style="left:1043px;top:518px;width:75px;height:1px;background:#000"></div>
<div class="r" style="left:1043px;top:534px;width:75px;height:1px;background:#000"></div>
<div class="r" style="left:1043px;top:184px;width:75px;height:1px;background:#000"></div>
<div class="r" style="left:1043px;top:550px;width:75px;height:1px;background:#000"></div>
<div class="r" style="left:1043px;top:184px;width:1px;height:367px;background:#000"></div>
<div class="r" style="left:1117px;top:184px;width:1px;height:367px;background:#000"></div>
<div class="r" style="left:1070px;top:184px;width:1px;height:367px;background:#000"></div>
<div class="r" style="left:1069px;top:183px;width:50px;height:2px;background:#000"></div>
<div class="r" style="left:1069px;top:185px;width:50px;height:1px;background:rgba(0,0,0,0.20)"></div>
<div class="r" style="left:1069px;top:201px;width:50px;height:2px;background:#000"></div>
<div class="r" style="left:1069px;top:203px;width:50px;height:1px;background:rgba(0,0,0,0.20)"></div>
<div class="r" style="left:1069px;top:183px;width:2px;height:20px;background:#000"></div>
<div class="r" style="left:1071px;top:183px;width:1px;height:20px;background:rgba(0,0,0,0.20)"></div>
<div class="r" style="left:1117px;top:183px;width:2px;height:20px;background:#000"></div>
<div class="r" style="left:1119px;top:183px;width:1px;height:20px;background:rgba(0,0,0,0.20)"></div>
<div class="r" style="left:1069px;top:366px;width:50px;height:2px;background:#000"></div>
<div class="r" style="left:1069px;top:368px;width:50px;height:1px;background:rgba(0,0,0,0.20)"></div>
<div class="r" style="left:1069px;top:400px;width:50px;height:2px;background:#000"></div>
<div class="r" style="left:1069px;top:402px;width:50px;height:1px;background:rgba(0,0,0,0.20)"></div>
<div class="r" style="left:1069px;top:366px;width:2px;height:36px;background:#000"></div>
<div class="r" style="left:1071px;top:366px;width:1px;height:36px;background:rgba(0,0,0,0.20)"></div>
<div class="r" style="left:1117px;top:366px;width:2px;height:36px;background:#000"></div>
<div class="r" style="left:1119px;top:366px;width:1px;height:36px;background:rgba(0,0,0,0.20)"></div>
<div class="r" style="left:1043px;top:400px;width:76px;height:2px;background:#000"></div>
<div class="r" style="left:1043px;top:402px;width:76px;height:1px;background:rgba(0,0,0,0.20)"></div>
<div class="r" style="left:1043px;top:417px;width:76px;height:2px;background:#000"></div>
<div class="r" style="left:1043px;top:419px;width:76px;height:1px;background:rgba(0,0,0,0.20)"></div>
<div class="t" style="left:1044.6px;width:26.4px;top:186.7px;color:#111;">123</div>
<div class="t" style="left:1071px;width:47.5px;top:186.7px;color:#fff;font-weight:bold;">673</div>
<div class="t" style="left:1044.6px;width:26.4px;top:203.85px;color:#111;">124</div>
<div class="t" style="left:1071px;width:47.5px;top:203.85px;color:#111;">677</div>
<div class="t" style="left:1044.6px;width:26.4px;top:220.05px;color:#111;">125</div>
<div class="t" style="left:1071px;width:47.5px;top:220.05px;color:#111;">683</div>
<div class="t" style="left:1044.6px;width:26.4px;top:236.5px;color:#111;">126</div>
<div class="t" style="left:1071px;width:47.5px;top:236.5px;color:#111;">691</div>
<div class="t" style="left:1044.6px;width:26.4px;top:253.3px;color:#111;">127</div>
<div class="t" style="left:1071px;width:47.5px;top:253.3px;color:#7030A0;font-weight:bold;">701</div>
<div class="t" style="left:1044.6px;width:26.4px;top:270.15px;color:#111;">128</div>
<div class="t" style="left:1071px;width:47.5px;top:270.15px;color:#111;">709</div>
<div class="t" style="left:1044.6px;width:26.4px;top:287.05px;color:#111;">129</div>
<div class="t" style="left:1071px;width:47.5px;top:287.05px;color:#111;">719</div>
<div class="t" style="left:1044.6px;width:26.4px;top:303.6px;color:#111;">130</div>
<div class="t" style="left:1071px;width:47.5px;top:303.6px;color:#111;">727</div>
<div class="t" style="left:1044.6px;width:26.4px;top:319.8px;color:#111;">131</div>
<div class="t" style="left:1071px;width:47.5px;top:319.8px;color:#111;">733</div>
<div class="t" style="left:1044.6px;width:26.4px;top:335.95px;color:#111;">132</div>
<div class="t" style="left:1071px;width:47.5px;top:335.95px;color:#111;">739</div>
<div class="t" style="left:1044.6px;width:26.4px;top:352.15px;color:#111;">133</div>
<div class="t" style="left:1071px;width:47.5px;top:352.15px;color:#111;">743</div>
<div class="t" style="left:1044.6px;width:26.4px;top:368.75px;color:#111;">134</div>
<div class="t" style="left:1071px;width:47.5px;top:368.75px;color:#111;font-weight:bold;">751</div>
<div class="t" style="left:1044.6px;width:26.4px;top:385.85px;color:#111;">135</div>
<div class="t" style="left:1071px;width:47.5px;top:385.85px;color:#111;font-weight:bold;">757</div>
<div class="t" style="left:1044.6px;width:26.4px;top:403.05px;color:#111;">136</div>
<div class="t" style="left:1071px;width:47.5px;top:403.05px;color:#E2501E;">761</div>
<div class="t" style="left:1044.6px;width:26.4px;top:419.85px;color:#111;">137</div>
<div class="t" style="left:1071px;width:47.5px;top:419.85px;color:#111;">769</div>
<div class="t" style="left:1044.6px;width:26.4px;top:436.2px;color:#111;">138</div>
<div class="t" style="left:1071px;width:47.5px;top:436.2px;color:#111;">773</div>
<div class="t" style="left:1044.6px;width:26.4px;top:452.65px;color:#111;">139</div>
<div class="t" style="left:1071px;width:47.5px;top:452.65px;color:#111;">787</div>
<div class="t" style="left:1044.6px;width:26.4px;top:469.55px;color:#111;">140</div>
<div class="t" style="left:1071px;width:47.5px;top:469.55px;color:#111;">797</div>
<div class="t" style="left:1044.6px;width:26.4px;top:486.55px;color:#111;">141</div>
<div class="t" style="left:1071px;width:47.5px;top:486.55px;color:#111;">809</div>
<div class="t" style="left:1044.6px;width:26.4px;top:503.55px;color:#111;">142</div>
<div class="t" style="left:1071px;width:47.5px;top:503.55px;color:#111;">811</div>
<div class="t" style="left:1044.6px;width:26.4px;top:520.15px;color:#111;">143</div>
<div class="t" style="left:1071px;width:47.5px;top:520.15px;color:#111;">821</div>
<div class="t" style="left:1044.6px;width:26.4px;top:536.3px;color:#111;">144</div>
<div class="t" style="left:1071px;width:47.5px;top:536.3px;color:#111;">823</div>
<div class="r" style="left:922px;top:551px;width:196px;height:280px;background:#FFFFCC"></div>
<div class="r" style="left:1118px;top:551px;width:74px;height:280px;background:#DAF7FC"></div>
<div class="r" style="left:1070px;top:551px;width:48px;height:18px;background:#00F000"></div>
<div class="r" style="left:1004px;top:684px;width:66px;height:18px;background:#FFFF00"></div>
<div class="r" style="left:1070px;top:684px;width:48px;height:18px;background:#FF3300"></div>
<div class="r" style="left:1070px;top:815px;width:48px;height:16px;background:#00F000"></div>
<div class="r" style="left:1004px;top:569px;width:189px;height:1px;background:#000"></div>
<div class="r" style="left:1004px;top:585px;width:189px;height:1px;background:#000"></div>
<div class="r" style="left:1004px;top:601px;width:189px;height:1px;background:#000"></div>
<div class="r" style="left:1004px;top:617px;width:189px;height:1px;background:#000"></div>
<div class="r" style="left:1004px;top:634px;width:189px;height:1px;background:#000"></div>
<div class="r" style="left:1004px;top:650px;width:189px;height:1px;background:#000"></div>
<div class="r" style="left:1004px;top:667px;width:189px;height:1px;background:#000"></div>
<div class="r" style="left:1004px;top:684px;width:189px;height:1px;background:#000"></div>
<div class="r" style="left:1004px;top:701px;width:189px;height:1px;background:#000"></div>
<div class="r" style="left:1004px;top:718px;width:189px;height:1px;background:#000"></div>
<div class="r" style="left:1004px;top:734px;width:189px;height:1px;background:#000"></div>
<div class="r" style="left:1004px;top:750px;width:189px;height:1px;background:#000"></div>
<div class="r" style="left:1004px;top:766px;width:189px;height:1px;background:#000"></div>
<div class="r" style="left:1004px;top:782px;width:189px;height:1px;background:#000"></div>
<div class="r" style="left:1004px;top:798px;width:189px;height:1px;background:#000"></div>
<div class="r" style="left:1004px;top:815px;width:189px;height:1px;background:#000"></div>
<div class="r" style="left:1003px;top:550px;width:2px;height:282px;background:#000"></div>
<div class="r" style="left:1043px;top:550px;width:1px;height:282px;background:#000"></div>
<div class="r" style="left:1044px;top:550px;width:1px;height:282px;background:rgba(0,0,0,0.50)"></div>
<div class="r" style="left:1070px;top:550px;width:1px;height:282px;background:#000"></div>
<div class="r" style="left:1071px;top:550px;width:1px;height:282px;background:rgba(0,0,0,0.50)"></div>
<div class="r" style="left:1117px;top:550px;width:1px;height:282px;background:#000"></div>
<div class="r" style="left:1118px;top:550px;width:1px;height:282px;background:rgba(0,0,0,0.50)"></div>
<div class="r" style="left:921px;top:550px;width:272px;height:2px;background:#000"></div>
<div class="r" style="left:921px;top:552px;width:272px;height:1px;background:rgba(0,0,0,0.20)"></div>
<div class="r" style="left:921px;top:830px;width:272px;height:2px;background:#000"></div>
<div class="r" style="left:921px;top:832px;width:272px;height:1px;background:rgba(0,0,0,0.20)"></div>
<div class="r" style="left:921px;top:550px;width:2px;height:282px;background:#000"></div>
<div class="r" style="left:923px;top:550px;width:1px;height:282px;background:rgba(0,0,0,0.20)"></div>
<div class="r" style="left:1191px;top:550px;width:2px;height:282px;background:#000"></div>
<div class="r" style="left:1193px;top:550px;width:1px;height:282px;background:rgba(0,0,0,0.20)"></div>
<div class="r" style="left:1003px;top:683px;width:116px;height:2px;background:#000"></div>
<div class="r" style="left:1003px;top:685px;width:116px;height:1px;background:rgba(0,0,0,0.20)"></div>
<div class="r" style="left:1003px;top:701px;width:116px;height:2px;background:#000"></div>
<div class="r" style="left:1003px;top:703px;width:116px;height:1px;background:rgba(0,0,0,0.20)"></div>
<div class="t" style="left:923.3px;width:81.7px;top:553.6px;color:#111;">Johnson</div>
<div class="t" style="left:1005px;width:39.6px;top:553.6px;color:#7030A0;font-weight:bold;">35</div>
<div class="t" style="left:1044.6px;width:26.4px;top:553.6px;color:#111;">145</div>
<div class="t" style="left:1071px;width:47.5px;top:553.6px;color:#111;font-weight:bold;">827</div>
<div class="t" style="left:1118.5px;width:74.5px;top:553.6px;color:#111;">6/7/1989</div>
<div class="t" style="left:923.3px;width:81.7px;top:570.85px;color:#111;">Nixon</div>
<div class="t" style="left:1005px;width:39.6px;top:570.85px;color:#7030A0;font-weight:bold;">36</div>
<div class="t" style="left:1044.6px;width:26.4px;top:570.85px;color:#111;">146</div>
<div class="t" style="left:1071px;width:47.5px;top:570.85px;color:#111;">829</div>
<div class="t" style="left:1118.5px;width:74.5px;top:570.85px;color:#111;">3/3/1987</div>
<div class="t" style="left:923.3px;width:81.7px;top:587px;color:#111;">Ford</div>
<div class="t" style="left:1005px;width:39.6px;top:587px;color:#7030A0;font-weight:bold;">37</div>
<div class="t" style="left:1044.6px;width:26.4px;top:587px;color:#111;">147</div>
<div class="t" style="left:1071px;width:47.5px;top:587px;color:#111;">839</div>
<div class="t" style="left:1118.5px;width:74.5px;top:587px;color:#111;">11/24/1984</div>
<div class="t" style="left:923.3px;width:81.7px;top:603.15px;color:#111;">Carter</div>
<div class="t" style="left:1005px;width:39.6px;top:603.15px;color:#7030A0;font-weight:bold;">38</div>
<div class="t" style="left:1044.6px;width:26.4px;top:603.15px;color:#111;">148</div>
<div class="t" style="left:1071px;width:47.5px;top:603.15px;color:#111;">853</div>
<div class="t" style="left:1118.5px;width:74.5px;top:603.15px;color:#111;">8/8/1982</div>
<div class="t" style="left:923.3px;width:81.7px;top:619.6px;color:#111;">Reagan</div>
<div class="t" style="left:1005px;width:39.6px;top:619.6px;color:#7030A0;font-weight:bold;">39</div>
<div class="t" style="left:1044.6px;width:26.4px;top:619.6px;color:#111;">149</div>
<div class="t" style="left:1071px;width:47.5px;top:619.6px;color:#111;">857</div>
<div class="t" style="left:1118.5px;width:74.5px;top:619.6px;color:#111;">4/7/1980</div>
<div class="t" style="left:923.3px;width:81.7px;top:636.1px;color:#111;">Bush</div>
<div class="t" style="left:1005px;width:39.6px;top:636.1px;color:#7030A0;font-weight:bold;">40</div>
<div class="t" style="left:1044.6px;width:26.4px;top:636.1px;color:#111;">150</div>
<div class="t" style="left:1071px;width:47.5px;top:636.1px;color:#111;">859</div>
<div class="t" style="left:1118.5px;width:74.5px;top:636.1px;color:#111;">12/2/1977</div>
<div class="t" style="left:923.3px;width:81.7px;top:652.6px;color:#111;">Clinton</div>
<div class="t" style="left:1005px;width:39.6px;top:652.6px;color:#7030A0;font-weight:bold;">41</div>
<div class="t" style="left:1044.6px;width:26.4px;top:652.6px;color:#111;">151</div>
<div class="t" style="left:1071px;width:47.5px;top:652.6px;color:#111;">863</div>
<div class="t" style="left:1118.5px;width:74.5px;top:652.6px;color:#111;">7/27/1975</div>
<div class="t" style="left:923.3px;width:81.7px;top:669.5px;color:#111;">Bush</div>
<div class="t" style="left:1005px;width:39.6px;top:669.5px;color:#7030A0;font-weight:bold;">42</div>
<div class="t" style="left:1044.6px;width:26.4px;top:669.5px;color:#111;">152</div>
<div class="t" style="left:1071px;width:47.5px;top:669.5px;color:#111;">877</div>
<div class="t" style="left:1118.5px;width:74.5px;top:669.5px;color:#111;">3/16/1973</div>
<div class="t" style="left:923.3px;width:81.7px;top:686.65px;color:#111;">Obama</div>
<div class="t" style="left:1005px;width:39.6px;top:686.65px;color:#7030A0;font-weight:bold;">43</div>
<div class="t" style="left:1044.6px;width:26.4px;top:686.65px;color:#E2501E;">153</div>
<div class="t" style="left:1071px;width:47.5px;top:686.65px;color:#fff;font-weight:bold;">881</div>
<div class="t" style="left:1118.5px;width:74.5px;top:686.65px;color:#111;">10/21/1970</div>
<div class="t" style="left:923.3px;width:81.7px;top:703.75px;color:#141478;font-weight:bold;">Trump</div>
<div class="t" style="left:1005px;width:39.6px;top:703.75px;color:#7030A0;font-weight:bold;">44</div>
<div class="t" style="left:1044.6px;width:26.4px;top:703.75px;color:#111;">154</div>
<div class="t" style="left:1071px;width:47.5px;top:703.75px;color:#111;">883</div>
<div class="t" style="left:1118.5px;width:74.5px;top:703.75px;color:#111;">5/23/1968</div>
<div class="t" style="left:1044.6px;width:26.4px;top:720.2px;color:#111;">155</div>
<div class="t" style="left:1071px;width:47.5px;top:720.2px;color:#111;">887</div>
<div class="t" style="left:1118.5px;width:74.5px;top:720.2px;color:#111;">12/22/1965</div>
<div class="t" style="left:1044.6px;width:26.4px;top:736.2px;color:#111;">156</div>
<div class="t" style="left:1071px;width:47.5px;top:736.2px;color:#111;">907</div>
<div class="t" style="left:1118.5px;width:74.5px;top:736.2px;color:#111;">7/19/1963</div>
<div class="t" style="left:1044.6px;width:26.4px;top:752.15px;color:#111;">157</div>
<div class="t" style="left:1071px;width:47.5px;top:752.15px;color:#111;">911</div>
<div class="t" style="left:1118.5px;width:74.5px;top:752.15px;color:#111;">1/23/1961</div>
<div class="t" style="left:1044.6px;width:26.4px;top:768.25px;color:#111;">158</div>
<div class="t" style="left:1071px;width:47.5px;top:768.25px;color:#111;">919</div>
<div class="t" style="left:1118.5px;width:74.5px;top:768.25px;color:#111;">7/27/1958</div>
<div class="t" style="left:1044.6px;width:26.4px;top:784.4px;color:#111;">159</div>
<div class="t" style="left:1071px;width:47.5px;top:784.4px;color:#111;">929</div>
<div class="t" style="left:1118.5px;width:74.5px;top:784.4px;color:#111;">1/20/1956</div>
<div class="t" style="left:1044.6px;width:26.4px;top:800.6px;color:#111;">160</div>
<div class="t" style="left:1071px;width:47.5px;top:800.6px;color:#111;">937</div>
<div class="t" style="left:1118.5px;width:74.5px;top:800.6px;color:#111;">7/5/1953</div>
<div class="t" style="left:1044.6px;width:26.4px;top:816.85px;color:#111;">161</div>
<div class="t" style="left:1071px;width:47.5px;top:816.85px;color:#111;font-weight:bold;">941</div>
<div class="t" style="left:1118.5px;width:74.5px;top:816.85px;color:#111;">12/11/1950</div>
<div class="r" style="left:1004px;top:831px;width:40px;height:19px;background:#FFFFCC"></div>
<div class="r" style="left:1003px;top:830px;width:42px;height:2px;background:#000"></div>
<div class="r" style="left:1003px;top:832px;width:42px;height:1px;background:rgba(0,0,0,0.20)"></div>
<div class="r" style="left:1003px;top:849px;width:42px;height:2px;background:#000"></div>
<div class="r" style="left:1003px;top:851px;width:42px;height:1px;background:rgba(0,0,0,0.20)"></div>
<div class="r" style="left:1003px;top:830px;width:2px;height:21px;background:#000"></div>
<div class="r" style="left:1005px;top:830px;width:1px;height:21px;background:rgba(0,0,0,0.20)"></div>
<div class="r" style="left:1043px;top:830px;width:2px;height:21px;background:#000"></div>
<div class="r" style="left:1045px;top:830px;width:1px;height:21px;background:rgba(0,0,0,0.20)"></div>
<div class="t" style="left:1005px;width:39.6px;top:834.35px;color:#7030A0;font-weight:bold;">395</div>
<div class="r" style="left:1044px;top:833px;width:74px;height:355px;background:#fff"></div>
<div class="r" style="left:1118px;top:831px;width:74px;height:19px;background:#FFFF00"></div>
<div class="r" style="left:1117px;top:830px;width:76px;height:2px;background:#000"></div>
<div class="r" style="left:1117px;top:832px;width:76px;height:1px;background:rgba(0,0,0,0.20)"></div>
<div class="r" style="left:1117px;top:849px;width:76px;height:2px;background:#000"></div>
<div class="r" style="left:1117px;top:851px;width:76px;height:1px;background:rgba(0,0,0,0.20)"></div>
<div class="r" style="left:1117px;top:830px;width:2px;height:21px;background:#000"></div>
<div class="r" style="left:1119px;top:830px;width:1px;height:21px;background:rgba(0,0,0,0.20)"></div>
<div class="r" style="left:1191px;top:830px;width:2px;height:21px;background:#000"></div>
<div class="r" style="left:1193px;top:830px;width:1px;height:21px;background:rgba(0,0,0,0.20)"></div>
<div class="t" style="left:1118.5px;width:74.5px;top:834.35px;color:#E8580F;font-weight:bold;">5/14/1948</div>
<div class="r" style="left:1044px;top:978px;width:74px;height:17px;background:#FFCCFF"></div>
<div class="r" style="left:1044px;top:1138px;width:74px;height:16px;background:#FFCCFF"></div>
<div class="r" style="left:1070px;top:1171px;width:48px;height:17px;background:#FF3300"></div>
<div class="r" style="left:1043px;top:850px;width:75px;height:1px;background:#000"></div>
<div class="r" style="left:1043px;top:866px;width:75px;height:1px;background:#000"></div>
<div class="r" style="left:1043px;top:882px;width:75px;height:1px;background:#000"></div>
<div class="r" style="left:1043px;top:898px;width:75px;height:1px;background:#000"></div>
<div class="r" style="left:1043px;top:914px;width:75px;height:1px;background:#000"></div>
<div class="r" style="left:1043px;top:930px;width:75px;height:1px;background:#000"></div>
<div class="r" style="left:1043px;top:946px;width:75px;height:1px;background:#000"></div>
<div class="r" style="left:1043px;top:962px;width:75px;height:1px;background:#000"></div>
<div class="r" style="left:1043px;top:978px;width:75px;height:1px;background:#000"></div>
<div class="r" style="left:1043px;top:994px;width:75px;height:1px;background:#000"></div>
<div class="r" style="left:1043px;top:1010px;width:75px;height:1px;background:#000"></div>
<div class="r" style="left:1043px;top:1026px;width:75px;height:1px;background:#000"></div>
<div class="r" style="left:1043px;top:1042px;width:75px;height:1px;background:#000"></div>
<div class="r" style="left:1043px;top:1058px;width:75px;height:1px;background:#000"></div>
<div class="r" style="left:1043px;top:1074px;width:75px;height:1px;background:#000"></div>
<div class="r" style="left:1043px;top:1090px;width:75px;height:1px;background:#000"></div>
<div class="r" style="left:1043px;top:1106px;width:75px;height:1px;background:#000"></div>
<div class="r" style="left:1043px;top:1122px;width:75px;height:1px;background:#000"></div>
<div class="r" style="left:1043px;top:1138px;width:75px;height:1px;background:#000"></div>
<div class="r" style="left:1043px;top:1154px;width:75px;height:1px;background:#000"></div>
<div class="r" style="left:1043px;top:1171px;width:75px;height:1px;background:#000"></div>
<div class="r" style="left:1043px;top:831px;width:75px;height:1px;background:#000"></div>
<div class="r" style="left:1043px;top:1188px;width:75px;height:1px;background:#000"></div>
<div class="r" style="left:1043px;top:831px;width:1px;height:358px;background:#000"></div>
<div class="r" style="left:1117px;top:831px;width:1px;height:358px;background:#000"></div>
<div class="r" style="left:1070px;top:831px;width:1px;height:358px;background:#000"></div>
<div class="r" style="left:1069px;top:1170px;width:50px;height:2px;background:#000"></div>
<div class="r" style="left:1069px;top:1172px;width:50px;height:1px;background:rgba(0,0,0,0.20)"></div>
<div class="r" style="left:1069px;top:1187px;width:50px;height:2px;background:#000"></div>
<div class="r" style="left:1069px;top:1189px;width:50px;height:1px;background:rgba(0,0,0,0.20)"></div>
<div class="r" style="left:1069px;top:1170px;width:2px;height:19px;background:#000"></div>
<div class="r" style="left:1071px;top:1170px;width:1px;height:19px;background:rgba(0,0,0,0.20)"></div>
<div class="r" style="left:1117px;top:1170px;width:2px;height:19px;background:#000"></div>
<div class="r" style="left:1119px;top:1170px;width:1px;height:19px;background:rgba(0,0,0,0.20)"></div>
<div class="t" style="left:1044.6px;width:26.4px;top:834.35px;color:#111;">162</div>
<div class="t" style="left:1071px;width:47.5px;top:834.35px;color:#111;">947</div>
<div class="t" style="left:1044.6px;width:26.4px;top:851.9px;color:#111;">163</div>
<div class="t" style="left:1071px;width:47.5px;top:851.9px;color:#111;">953</div>
<div class="t" style="left:1044.6px;width:26.4px;top:868.1px;color:#111;">164</div>
<div class="t" style="left:1071px;width:47.5px;top:868.1px;color:#111;">967</div>
<div class="t" style="left:1044.6px;width:26.4px;top:884.25px;color:#111;">165</div>
<div class="t" style="left:1071px;width:47.5px;top:884.25px;color:#111;">971</div>
<div class="t" style="left:1044.6px;width:26.4px;top:900.15px;color:#111;">166</div>
<div class="t" style="left:1071px;width:47.5px;top:900.15px;color:#111;">977</div>
<div class="t" style="left:1044.6px;width:26.4px;top:916.05px;color:#111;">167</div>
<div class="t" style="left:1071px;width:47.5px;top:916.05px;color:#111;">983</div>
<div class="t" style="left:1044.6px;width:26.4px;top:932px;color:#111;">168</div>
<div class="t" style="left:1071px;width:47.5px;top:932px;color:#111;">991</div>
<div class="t" style="left:1044.6px;width:26.4px;top:948px;color:#111;">169</div>
<div class="t" style="left:1071px;width:47.5px;top:948px;color:#111;">997</div>
<div class="t" style="left:1044.6px;width:26.4px;top:964px;color:#111;">170</div>
<div class="t" style="left:1071px;width:47.5px;top:964px;color:#111;">1009</div>
<div class="t" style="left:1044.6px;width:26.4px;top:980.1px;color:#E2501E;font-weight:bold;">171</div>
<div class="t" style="left:1071px;width:47.5px;top:980.1px;color:#7030A0;font-weight:bold;">1013</div>
<div class="t" style="left:1044.6px;width:26.4px;top:996.25px;color:#111;">172</div>
<div class="t" style="left:1071px;width:47.5px;top:996.25px;color:#111;">1019</div>
<div class="t" style="left:1044.6px;width:26.4px;top:1012.1px;color:#111;">173</div>
<div class="t" style="left:1071px;width:47.5px;top:1012.1px;color:#111;">1021</div>
<div class="t" style="left:1044.6px;width:26.4px;top:1028.15px;color:#111;">174</div>
<div class="t" style="left:1071px;width:47.5px;top:1028.15px;color:#111;">1031</div>
<div class="t" style="left:1044.6px;width:26.4px;top:1044.25px;color:#111;">175</div>
<div class="t" style="left:1071px;width:47.5px;top:1044.25px;color:#111;">1033</div>
<div class="t" style="left:1044.6px;width:26.4px;top:1060.15px;color:#111;">176</div>
<div class="t" style="left:1071px;width:47.5px;top:1060.15px;color:#111;">1039</div>
<div class="t" style="left:1044.6px;width:26.4px;top:1076.05px;color:#111;">177</div>
<div class="t" style="left:1071px;width:47.5px;top:1076.05px;color:#111;">1049</div>
<div class="t" style="left:1044.6px;width:26.4px;top:1091.95px;color:#111;">178</div>
<div class="t" style="left:1071px;width:47.5px;top:1091.95px;color:#111;">1051</div>
<div class="t" style="left:1044.6px;width:26.4px;top:1107.9px;color:#111;">179</div>
<div class="t" style="left:1071px;width:47.5px;top:1107.9px;color:#111;">1061</div>
<div class="t" style="left:1044.6px;width:26.4px;top:1123.85px;color:#111;">180</div>
<div class="t" style="left:1071px;width:47.5px;top:1123.85px;color:#111;">1063</div>
<div class="t" style="left:1044.6px;width:26.4px;top:1139.9px;color:#E2501E;font-weight:bold;">181</div>
<div class="t" style="left:1071px;width:47.5px;top:1139.9px;color:#E2501E;font-weight:bold;">1069</div>
<div class="t" style="left:1044.6px;width:26.4px;top:1156.4px;color:#111;">182</div>
<div class="t" style="left:1071px;width:47.5px;top:1156.4px;color:#111;">1087</div>
<div class="t" style="left:1044.6px;width:26.4px;top:1173.25px;color:#111;">183</div>
<div class="t" style="left:1071px;width:47.5px;top:1173.25px;color:#fff;font-weight:bold;">1091</div>
<div class="t" style="left:1124.5px;width:194px;top:1139.9px;color:#111;text-align:left;"><b style="color:#E2501E">1069</b> - <b style="color:#E2501E">181</b> = <b style="color:#7030A0">888</b></div>
<div class="r" style="left:1192px;top:251px;width:54px;height:150px;background:#FFFFCC"></div>
<div class="r" style="left:1191px;top:250px;width:56px;height:2px;background:#000"></div>
<div class="r" style="left:1191px;top:252px;width:56px;height:1px;background:rgba(0,0,0,0.20)"></div>
<div class="r" style="left:1191px;top:400px;width:56px;height:2px;background:#000"></div>
<div class="r" style="left:1191px;top:402px;width:56px;height:1px;background:rgba(0,0,0,0.20)"></div>
<div class="r" style="left:1191px;top:250px;width:2px;height:152px;background:#000"></div>
<div class="r" style="left:1193px;top:250px;width:1px;height:152px;background:rgba(0,0,0,0.20)"></div>
<div class="r" style="left:1245px;top:250px;width:2px;height:152px;background:#000"></div>
<div class="r" style="left:1247px;top:250px;width:1px;height:152px;background:rgba(0,0,0,0.20)"></div>
<div class="r" style="left:1192px;top:366px;width:55px;height:1px;background:#000"></div>
<div class="t" style="left:1193.2px;width:53.8px;top:253.3px;color:#1A1A50;">Sums of</div>
<div class="t" style="left:1193.2px;width:53.8px;top:270.15px;color:#1A1A50;">first 4</div>
<div class="t" style="left:1193.2px;width:53.8px;top:287.05px;color:#1A1A50;">primes</div>
<div class="t" style="left:1193.2px;width:53.8px;top:303.6px;color:#1A1A50;">in rows</div>
<div class="t" style="left:1193.2px;width:53.8px;top:319.8px;color:#1A1A50;">12 &amp; 13</div>
<div class="t" style="left:1193.2px;width:53.8px;top:335.95px;color:#1A1A50;">total</div>
<div class="t" style="left:1193.2px;width:53.8px;top:352.15px;color:#1A1A50;font-weight:bold;">4670.</div>
<div class="t" style="left:1193.2px;width:53.8px;top:368.75px;color:#141478;font-weight:bold;">2322 +</div>
<div class="t" style="left:1193.2px;width:53.8px;top:385.85px;color:#141478;font-weight:bold;">2348</div>
<div class="t" style="left:1118.5px;width:74.5px;top:368.75px;color:#111;">&gt;&gt;&gt;</div>
<div class="t" style="left:1247px;width:40.6px;top:368.75px;color:#111;">&lt;</div>
<div class="t" style="left:1118.5px;width:74.5px;top:385.85px;color:#111;">&gt;&gt;&gt;</div>
<div class="t" style="left:1247px;width:40.6px;top:385.85px;color:#111;">&lt;</div>
<div class="r" style="left:1313px;top:137px;width:47px;height:47px;background:#fff"></div>
<div class="r" style="left:1313px;top:136px;width:48px;height:1px;background:#000"></div>
<div class="r" style="left:1313px;top:167px;width:48px;height:1px;background:#000"></div>
<div class="r" style="left:1313px;top:136px;width:1px;height:32px;background:#000"></div>
<div class="r" style="left:1360px;top:136px;width:1px;height:32px;background:#000"></div>
<div class="r" style="left:1313px;top:167px;width:48px;height:1px;background:#000"></div>
<div class="r" style="left:1313px;top:184px;width:48px;height:1px;background:#000"></div>
<div class="r" style="left:1313px;top:167px;width:1px;height:18px;background:#000"></div>
<div class="r" style="left:1360px;top:167px;width:1px;height:18px;background:#000"></div>
<div class="t" style="left:1314.2px;width:46.9px;top:137.6px;color:#111;font-size:10.3px;">Column</div>
<div class="t" style="left:1314.2px;width:46.9px;top:152.6px;color:#111;">4</div>
<div class="t" style="left:1314.2px;width:46.9px;top:169.3px;color:#111;">Primes</div>
<div class="r" style="left:1287px;top:184px;width:73px;height:1004px;background:#fff"></div>
<div class="r" style="left:1287px;top:251px;width:73px;height:17px;background:#FFFF00"></div>
<div class="r" style="left:1313px;top:367px;width:47px;height:34px;background:#FFFF00"></div>
<div class="r" style="left:1360px;top:367px;width:40px;height:34px;background:#FFCCFF"></div>
<div class="r" style="left:1287px;top:401px;width:113px;height:17px;background:#FFCCFF"></div>
<div class="r" style="left:1313px;top:634px;width:47px;height:33px;background:#FF6600"></div>
<div class="r" style="left:1287px;top:684px;width:73px;height:18px;background:#99CCFF"></div>
<div class="r" style="left:1287px;top:1011px;width:26px;height:15px;background:#FFFF00"></div>
<div class="r" style="left:1286px;top:202px;width:75px;height:1px;background:#000"></div>
<div class="r" style="left:1286px;top:218px;width:75px;height:1px;background:#000"></div>
<div class="r" style="left:1286px;top:234px;width:75px;height:1px;background:#000"></div>
<div class="r" style="left:1286px;top:251px;width:75px;height:1px;background:#000"></div>
<div class="r" style="left:1286px;top:268px;width:75px;height:1px;background:#000"></div>
<div class="r" style="left:1286px;top:284px;width:75px;height:1px;background:#000"></div>
<div class="r" style="left:1286px;top:301px;width:75px;height:1px;background:#000"></div>
<div class="r" style="left:1286px;top:318px;width:75px;height:1px;background:#000"></div>
<div class="r" style="left:1286px;top:334px;width:75px;height:1px;background:#000"></div>
<div class="r" style="left:1286px;top:350px;width:75px;height:1px;background:#000"></div>
<div class="r" style="left:1286px;top:366px;width:75px;height:1px;background:#000"></div>
<div class="r" style="left:1286px;top:383px;width:75px;height:1px;background:#000"></div>
<div class="r" style="left:1286px;top:400px;width:75px;height:1px;background:#000"></div>
<div class="r" style="left:1286px;top:417px;width:75px;height:1px;background:#000"></div>
<div class="r" style="left:1286px;top:434px;width:75px;height:1px;background:#000"></div>
<div class="r" style="left:1286px;top:450px;width:75px;height:1px;background:#000"></div>
<div class="r" style="left:1286px;top:467px;width:75px;height:1px;background:#000"></div>
<div class="r" style="left:1286px;top:484px;width:75px;height:1px;background:#000"></div>
<div class="r" style="left:1286px;top:501px;width:75px;height:1px;background:#000"></div>
<div class="r" style="left:1286px;top:518px;width:75px;height:1px;background:#000"></div>
<div class="r" style="left:1286px;top:534px;width:75px;height:1px;background:#000"></div>
<div class="r" style="left:1286px;top:550px;width:75px;height:1px;background:#000"></div>
<div class="r" style="left:1286px;top:569px;width:75px;height:1px;background:#000"></div>
<div class="r" style="left:1286px;top:585px;width:75px;height:1px;background:#000"></div>
<div class="r" style="left:1286px;top:601px;width:75px;height:1px;background:#000"></div>
<div class="r" style="left:1286px;top:617px;width:75px;height:1px;background:#000"></div>
<div class="r" style="left:1286px;top:634px;width:75px;height:1px;background:#000"></div>
<div class="r" style="left:1286px;top:650px;width:75px;height:1px;background:#000"></div>
<div class="r" style="left:1286px;top:667px;width:75px;height:1px;background:#000"></div>
<div class="r" style="left:1286px;top:684px;width:75px;height:1px;background:#000"></div>
<div class="r" style="left:1286px;top:701px;width:75px;height:1px;background:#000"></div>
<div class="r" style="left:1286px;top:718px;width:75px;height:1px;background:#000"></div>
<div class="r" style="left:1286px;top:734px;width:75px;height:1px;background:#000"></div>
<div class="r" style="left:1286px;top:750px;width:75px;height:1px;background:#000"></div>
<div class="r" style="left:1286px;top:766px;width:75px;height:1px;background:#000"></div>
<div class="r" style="left:1286px;top:782px;width:75px;height:1px;background:#000"></div>
<div class="r" style="left:1286px;top:798px;width:75px;height:1px;background:#000"></div>
<div class="r" style="left:1286px;top:815px;width:75px;height:1px;background:#000"></div>
<div class="r" style="left:1286px;top:831px;width:75px;height:1px;background:#000"></div>
<div class="r" style="left:1286px;top:850px;width:75px;height:1px;background:#000"></div>
<div class="r" style="left:1286px;top:866px;width:75px;height:1px;background:#000"></div>
<div class="r" style="left:1286px;top:882px;width:75px;height:1px;background:#000"></div>
<div class="r" style="left:1286px;top:898px;width:75px;height:1px;background:#000"></div>
<div class="r" style="left:1286px;top:914px;width:75px;height:1px;background:#000"></div>
<div class="r" style="left:1286px;top:930px;width:75px;height:1px;background:#000"></div>
<div class="r" style="left:1286px;top:946px;width:75px;height:1px;background:#000"></div>
<div class="r" style="left:1286px;top:962px;width:75px;height:1px;background:#000"></div>
<div class="r" style="left:1286px;top:978px;width:75px;height:1px;background:#000"></div>
<div class="r" style="left:1286px;top:994px;width:75px;height:1px;background:#000"></div>
<div class="r" style="left:1286px;top:1010px;width:75px;height:1px;background:#000"></div>
<div class="r" style="left:1286px;top:1026px;width:75px;height:1px;background:#000"></div>
<div class="r" style="left:1286px;top:1042px;width:75px;height:1px;background:#000"></div>
<div class="r" style="left:1286px;top:1058px;width:75px;height:1px;background:#000"></div>
<div class="r" style="left:1286px;top:1074px;width:75px;height:1px;background:#000"></div>
<div class="r" style="left:1286px;top:1090px;width:75px;height:1px;background:#000"></div>
<div class="r" style="left:1286px;top:1106px;width:75px;height:1px;background:#000"></div>
<div class="r" style="left:1286px;top:1122px;width:75px;height:1px;background:#000"></div>
<div class="r" style="left:1286px;top:1138px;width:75px;height:1px;background:#000"></div>
<div class="r" style="left:1286px;top:1154px;width:75px;height:1px;background:#000"></div>
<div class="r" style="left:1286px;top:1171px;width:75px;height:1px;background:#000"></div>
<div class="r" style="left:1286px;top:184px;width:75px;height:1px;background:#000"></div>
<div class="r" style="left:1286px;top:1188px;width:75px;height:1px;background:#000"></div>
<div class="r" style="left:1286px;top:184px;width:1px;height:1005px;background:#000"></div>
<div class="r" style="left:1360px;top:184px;width:1px;height:1005px;background:#000"></div>
<div class="r" style="left:1313px;top:184px;width:1px;height:1005px;background:#000"></div>
<div class="r" style="left:1312px;top:366px;width:49px;height:2px;background:#000"></div>
<div class="r" style="left:1312px;top:368px;width:49px;height:1px;background:rgba(0,0,0,0.20)"></div>
<div class="r" style="left:1312px;top:400px;width:49px;height:2px;background:#000"></div>
<div class="r" style="left:1312px;top:402px;width:49px;height:1px;background:rgba(0,0,0,0.20)"></div>
<div class="r" style="left:1312px;top:366px;width:2px;height:36px;background:#000"></div>
<div class="r" style="left:1314px;top:366px;width:1px;height:36px;background:rgba(0,0,0,0.20)"></div>
<div class="r" style="left:1359px;top:366px;width:2px;height:36px;background:#000"></div>
<div class="r" style="left:1361px;top:366px;width:1px;height:36px;background:rgba(0,0,0,0.20)"></div>
<div class="r" style="left:1359px;top:366px;width:42px;height:2px;background:#000"></div>
<div class="r" style="left:1359px;top:368px;width:42px;height:1px;background:rgba(0,0,0,0.20)"></div>
<div class="r" style="left:1359px;top:400px;width:42px;height:2px;background:#000"></div>
<div class="r" style="left:1359px;top:402px;width:42px;height:1px;background:rgba(0,0,0,0.20)"></div>
<div class="r" style="left:1359px;top:366px;width:2px;height:36px;background:#000"></div>
<div class="r" style="left:1361px;top:366px;width:1px;height:36px;background:rgba(0,0,0,0.20)"></div>
<div class="r" style="left:1399px;top:366px;width:2px;height:36px;background:#000"></div>
<div class="r" style="left:1401px;top:366px;width:1px;height:36px;background:rgba(0,0,0,0.20)"></div>
<div class="r" style="left:1312px;top:400px;width:89px;height:2px;background:#000"></div>
<div class="r" style="left:1312px;top:402px;width:89px;height:1px;background:rgba(0,0,0,0.20)"></div>
<div class="r" style="left:1312px;top:417px;width:89px;height:2px;background:#000"></div>
<div class="r" style="left:1312px;top:419px;width:89px;height:1px;background:rgba(0,0,0,0.20)"></div>
<div class="r" style="left:1312px;top:400px;width:2px;height:19px;background:#000"></div>
<div class="r" style="left:1314px;top:400px;width:1px;height:19px;background:rgba(0,0,0,0.20)"></div>
<div class="r" style="left:1399px;top:400px;width:2px;height:19px;background:#000"></div>
<div class="r" style="left:1401px;top:400px;width:1px;height:19px;background:rgba(0,0,0,0.20)"></div>
<div class="r" style="left:1359px;top:400px;width:2px;height:19px;background:#000"></div>
<div class="r" style="left:1361px;top:400px;width:1px;height:19px;background:rgba(0,0,0,0.20)"></div>
<div class="r" style="left:1286px;top:400px;width:115px;height:2px;background:#000"></div>
<div class="r" style="left:1286px;top:402px;width:115px;height:1px;background:rgba(0,0,0,0.20)"></div>
<div class="r" style="left:1286px;top:417px;width:115px;height:2px;background:#000"></div>
<div class="r" style="left:1286px;top:419px;width:115px;height:1px;background:rgba(0,0,0,0.20)"></div>
<div class="r" style="left:1312px;top:633px;width:49px;height:2px;background:#000"></div>
<div class="r" style="left:1312px;top:635px;width:49px;height:1px;background:rgba(0,0,0,0.20)"></div>
<div class="r" style="left:1312px;top:666px;width:49px;height:2px;background:#000"></div>
<div class="r" style="left:1312px;top:668px;width:49px;height:1px;background:rgba(0,0,0,0.20)"></div>
<div class="r" style="left:1312px;top:633px;width:2px;height:35px;background:#000"></div>
<div class="r" style="left:1314px;top:633px;width:1px;height:35px;background:rgba(0,0,0,0.20)"></div>
<div class="r" style="left:1359px;top:633px;width:2px;height:35px;background:#000"></div>
<div class="r" style="left:1361px;top:633px;width:1px;height:35px;background:rgba(0,0,0,0.20)"></div>
<div class="r" style="left:1246px;top:634px;width:41px;height:33px;background:#FF6600"></div>
<div class="r" style="left:1245px;top:633px;width:43px;height:2px;background:#000"></div>
<div class="r" style="left:1245px;top:635px;width:43px;height:1px;background:rgba(0,0,0,0.20)"></div>
<div class="r" style="left:1245px;top:666px;width:43px;height:2px;background:#000"></div>
<div class="r" style="left:1245px;top:668px;width:43px;height:1px;background:rgba(0,0,0,0.20)"></div>
<div class="r" style="left:1245px;top:633px;width:2px;height:35px;background:#000"></div>
<div class="r" style="left:1247px;top:633px;width:1px;height:35px;background:rgba(0,0,0,0.20)"></div>
<div class="r" style="left:1286px;top:633px;width:2px;height:35px;background:#000"></div>
<div class="r" style="left:1288px;top:633px;width:1px;height:35px;background:rgba(0,0,0,0.20)"></div>
<div class="t" style="left:1247.3px;width:35.3px;top:652.6px;color:#fff;font-weight:bold;text-align:right;">2588</div>
<div class="t" style="left:1361.1px;width:39.9px;top:385.85px;color:#141478;font-weight:bold;">2368</div>
<div class="t" style="left:1361.1px;width:39.9px;top:403.05px;color:#E2501E;">2368</div>
<div class="t" style="left:1287.6px;width:26.6px;top:186.7px;color:#111;">184</div>
<div class="t" style="left:1314.2px;width:46.9px;top:186.7px;color:#111;">1093</div>
<div class="t" style="left:1287.6px;width:26.6px;top:203.85px;color:#111;">185</div>
<div class="t" style="left:1314.2px;width:46.9px;top:203.85px;color:#111;">1097</div>
<div class="t" style="left:1287.6px;width:26.6px;top:220.05px;color:#111;">186</div>
<div class="t" style="left:1314.2px;width:46.9px;top:220.05px;color:#111;">1103</div>
<div class="t" style="left:1287.6px;width:26.6px;top:236.5px;color:#111;">187</div>
<div class="t" style="left:1314.2px;width:46.9px;top:236.5px;color:#E2501E;font-weight:bold;">1109</div>
<div class="t" style="left:1287.6px;width:26.6px;top:253.3px;color:#E8650C;font-weight:bold;">188</div>
<div class="t" style="left:1314.2px;width:46.9px;top:253.3px;color:#E2501E;font-weight:bold;">1117</div>
<div class="t" style="left:1287.6px;width:26.6px;top:270.15px;color:#111;">189</div>
<div class="t" style="left:1314.2px;width:46.9px;top:270.15px;color:#111;">1123</div>
<div class="t" style="left:1287.6px;width:26.6px;top:287.05px;color:#111;">190</div>
<div class="t" style="left:1314.2px;width:46.9px;top:287.05px;color:#111;">1129</div>
<div class="t" style="left:1287.6px;width:26.6px;top:303.6px;color:#111;">191</div>
<div class="t" style="left:1314.2px;width:46.9px;top:303.6px;color:#111;">1151</div>
<div class="t" style="left:1287.6px;width:26.6px;top:319.8px;color:#111;">192</div>
<div class="t" style="left:1314.2px;width:46.9px;top:319.8px;color:#111;">1153</div>
<div class="t" style="left:1287.6px;width:26.6px;top:335.95px;color:#111;">193</div>
<div class="t" style="left:1314.2px;width:46.9px;top:335.95px;color:#111;">1163</div>
<div class="t" style="left:1287.6px;width:26.6px;top:352.15px;color:#111;">194</div>
<div class="t" style="left:1314.2px;width:46.9px;top:352.15px;color:#111;">1171</div>
<div class="t" style="left:1287.6px;width:26.6px;top:368.75px;color:#111;">195</div>
<div class="t" style="left:1314.2px;width:46.9px;top:368.75px;color:#111;font-weight:bold;">1181</div>
<div class="t" style="left:1287.6px;width:26.6px;top:385.85px;color:#111;">196</div>
<div class="t" style="left:1314.2px;width:46.9px;top:385.85px;color:#111;font-weight:bold;">1187</div>
<div class="t" style="left:1287.6px;width:26.6px;top:403.05px;color:#111;">197</div>
<div class="t" style="left:1314.2px;width:46.9px;top:403.05px;color:#E2501E;">1193</div>
<div class="t" style="left:1287.6px;width:26.6px;top:419.85px;color:#111;">198</div>
<div class="t" style="left:1314.2px;width:46.9px;top:419.85px;color:#111;">1201</div>
<div class="t" style="left:1287.6px;width:26.6px;top:436.2px;color:#111;">199</div>
<div class="t" style="left:1314.2px;width:46.9px;top:436.2px;color:#111;">1213</div>
<div class="t" style="left:1287.6px;width:26.6px;top:452.65px;color:#111;">200</div>
<div class="t" style="left:1314.2px;width:46.9px;top:452.65px;color:#111;">1217</div>
<div class="t" style="left:1287.6px;width:26.6px;top:469.55px;color:#111;">201</div>
<div class="t" style="left:1314.2px;width:46.9px;top:469.55px;color:#111;">1223</div>
<div class="t" style="left:1287.6px;width:26.6px;top:486.55px;color:#111;">202</div>
<div class="t" style="left:1314.2px;width:46.9px;top:486.55px;color:#111;">1229</div>
<div class="t" style="left:1287.6px;width:26.6px;top:503.55px;color:#111;">203</div>
<div class="t" style="left:1314.2px;width:46.9px;top:503.55px;color:#111;">1231</div>
<div class="t" style="left:1287.6px;width:26.6px;top:520.15px;color:#111;">204</div>
<div class="t" style="left:1314.2px;width:46.9px;top:520.15px;color:#111;">1237</div>
<div class="t" style="left:1287.6px;width:26.6px;top:536.3px;color:#111;">205</div>
<div class="t" style="left:1314.2px;width:46.9px;top:536.3px;color:#111;">1249</div>
<div class="t" style="left:1287.6px;width:26.6px;top:553.6px;color:#111;">206</div>
<div class="t" style="left:1314.2px;width:46.9px;top:553.6px;color:#111;">1259</div>
<div class="t" style="left:1287.6px;width:26.6px;top:570.85px;color:#111;">207</div>
<div class="t" style="left:1314.2px;width:46.9px;top:570.85px;color:#111;">1277</div>
<div class="t" style="left:1287.6px;width:26.6px;top:587px;color:#111;">208</div>
<div class="t" style="left:1314.2px;width:46.9px;top:587px;color:#111;">1279</div>
<div class="t" style="left:1287.6px;width:26.6px;top:603.15px;color:#111;">209</div>
<div class="t" style="left:1314.2px;width:46.9px;top:603.15px;color:#111;">1283</div>
<div class="t" style="left:1287.6px;width:26.6px;top:619.6px;color:#111;">210</div>
<div class="t" style="left:1314.2px;width:46.9px;top:619.6px;color:#111;">1289</div>
<div class="t" style="left:1287.6px;width:26.6px;top:636.1px;color:#111;">211</div>
<div class="t" style="left:1314.2px;width:46.9px;top:636.1px;color:#fff;font-weight:bold;">1291</div>
<div class="t" style="left:1287.6px;width:26.6px;top:652.6px;color:#E2501E;">212</div>
<div class="t" style="left:1314.2px;width:46.9px;top:652.6px;color:#fff;font-weight:bold;">1297</div>
<div class="t" style="left:1287.6px;width:26.6px;top:669.5px;color:#111;">213</div>
<div class="t" style="left:1314.2px;width:46.9px;top:669.5px;color:#111;">1301</div>
<div class="t" style="left:1287.6px;width:26.6px;top:686.65px;color:#141478;font-weight:bold;">214</div>
<div class="t" style="left:1314.2px;width:46.9px;top:686.65px;color:#141478;font-weight:bold;">1303</div>
<div class="t" style="left:1287.6px;width:26.6px;top:703.75px;color:#111;">215</div>
<div class="t" style="left:1314.2px;width:46.9px;top:703.75px;color:#111;">1307</div>
<div class="t" style="left:1287.6px;width:26.6px;top:720.2px;color:#111;">216</div>
<div class="t" style="left:1314.2px;width:46.9px;top:720.2px;color:#111;">1319</div>
<div class="t" style="left:1287.6px;width:26.6px;top:736.2px;color:#111;">217</div>
<div class="t" style="left:1314.2px;width:46.9px;top:736.2px;color:#111;">1321</div>
<div class="t" style="left:1287.6px;width:26.6px;top:752.15px;color:#111;">218</div>
<div class="t" style="left:1314.2px;width:46.9px;top:752.15px;color:#111;">1327</div>
<div class="t" style="left:1287.6px;width:26.6px;top:768.25px;color:#111;">219</div>
<div class="t" style="left:1314.2px;width:46.9px;top:768.25px;color:#111;">1361</div>
<div class="t" style="left:1287.6px;width:26.6px;top:784.4px;color:#111;">220</div>
<div class="t" style="left:1314.2px;width:46.9px;top:784.4px;color:#111;">1367</div>
<div class="t" style="left:1287.6px;width:26.6px;top:800.6px;color:#111;">221</div>
<div class="t" style="left:1314.2px;width:46.9px;top:800.6px;color:#111;">1373</div>
<div class="t" style="left:1287.6px;width:26.6px;top:816.85px;color:#111;">222</div>
<div class="t" style="left:1314.2px;width:46.9px;top:816.85px;color:#111;">1381</div>
<div class="t" style="left:1287.6px;width:26.6px;top:834.35px;color:#111;">223</div>
<div class="t" style="left:1314.2px;width:46.9px;top:834.35px;color:#111;">1399</div>
<div class="t" style="left:1287.6px;width:26.6px;top:851.9px;color:#111;">224</div>
<div class="t" style="left:1314.2px;width:46.9px;top:851.9px;color:#111;">1409</div>
<div class="t" style="left:1287.6px;width:26.6px;top:868.1px;color:#111;">225</div>
<div class="t" style="left:1314.2px;width:46.9px;top:868.1px;color:#111;">1423</div>
<div class="t" style="left:1287.6px;width:26.6px;top:884.25px;color:#111;">226</div>
<div class="t" style="left:1314.2px;width:46.9px;top:884.25px;color:#111;">1427</div>
<div class="t" style="left:1287.6px;width:26.6px;top:900.15px;color:#111;">227</div>
<div class="t" style="left:1314.2px;width:46.9px;top:900.15px;color:#111;">1429</div>
<div class="t" style="left:1287.6px;width:26.6px;top:916.05px;color:#111;">228</div>
<div class="t" style="left:1314.2px;width:46.9px;top:916.05px;color:#111;">1433</div>
<div class="t" style="left:1287.6px;width:26.6px;top:932px;color:#111;">229</div>
<div class="t" style="left:1314.2px;width:46.9px;top:932px;color:#111;">1439</div>
<div class="t" style="left:1287.6px;width:26.6px;top:948px;color:#111;">230</div>
<div class="t" style="left:1314.2px;width:46.9px;top:948px;color:#111;">1447</div>
<div class="t" style="left:1287.6px;width:26.6px;top:964px;color:#111;">231</div>
<div class="t" style="left:1314.2px;width:46.9px;top:964px;color:#111;">1451</div>
<div class="t" style="left:1287.6px;width:26.6px;top:980.1px;color:#111;">232</div>
<div class="t" style="left:1314.2px;width:46.9px;top:980.1px;color:#111;">1453</div>
<div class="t" style="left:1287.6px;width:26.6px;top:996.25px;color:#111;">233</div>
<div class="t" style="left:1314.2px;width:46.9px;top:996.25px;color:#111;">1459</div>
<div class="t" style="left:1287.6px;width:26.6px;top:1012.1px;color:#E8650C;">234</div>
<div class="t" style="left:1314.2px;width:46.9px;top:1012.1px;color:#111;">1471</div>
<div class="t" style="left:1287.6px;width:26.6px;top:1028.15px;color:#111;">235</div>
<div class="t" style="left:1314.2px;width:46.9px;top:1028.15px;color:#111;">1481</div>
<div class="t" style="left:1287.6px;width:26.6px;top:1044.25px;color:#111;">236</div>
<div class="t" style="left:1314.2px;width:46.9px;top:1044.25px;color:#111;">1483</div>
<div class="t" style="left:1287.6px;width:26.6px;top:1060.15px;color:#111;">237</div>
<div class="t" style="left:1314.2px;width:46.9px;top:1060.15px;color:#111;">1487</div>
<div class="t" style="left:1287.6px;width:26.6px;top:1076.05px;color:#111;">238</div>
<div class="t" style="left:1314.2px;width:46.9px;top:1076.05px;color:#111;">1489</div>
<div class="t" style="left:1287.6px;width:26.6px;top:1091.95px;color:#111;">239</div>
<div class="t" style="left:1314.2px;width:46.9px;top:1091.95px;color:#111;">1493</div>
<div class="t" style="left:1287.6px;width:26.6px;top:1107.9px;color:#111;">240</div>
<div class="t" style="left:1314.2px;width:46.9px;top:1107.9px;color:#111;">1499</div>
<div class="t" style="left:1287.6px;width:26.6px;top:1123.85px;color:#111;">241</div>
<div class="t" style="left:1314.2px;width:46.9px;top:1123.85px;color:#111;">1511</div>
<div class="t" style="left:1287.6px;width:26.6px;top:1139.9px;color:#111;">242</div>
<div class="t" style="left:1314.2px;width:46.9px;top:1139.9px;color:#111;">1523</div>
<div class="t" style="left:1287.6px;width:26.6px;top:1156.4px;color:#111;">243</div>
<div class="t" style="left:1314.2px;width:46.9px;top:1156.4px;color:#111;">1531</div>
<div class="t" style="left:1287.6px;width:26.6px;top:1173.25px;color:#111;">244</div>
<div class="t" style="left:1314.2px;width:46.9px;top:1173.25px;color:#111;">1543</div>
<div class="t" style="left:1367.1px;width:194px;top:253.3px;color:#111;text-align:left;"><b style="color:#E2501E">1117</b> - <b style="color:#E8650C">188</b> = <b style="color:#7030A0">929</b></div>
<div class="r" style="left:1506px;top:137px;width:66px;height:47px;background:#fff"></div>
<div class="r" style="left:1506px;top:136px;width:67px;height:1px;background:#000"></div>
<div class="r" style="left:1506px;top:167px;width:67px;height:1px;background:#000"></div>
<div class="r" style="left:1506px;top:136px;width:1px;height:32px;background:#000"></div>
<div class="r" style="left:1572px;top:136px;width:1px;height:32px;background:#000"></div>
<div class="r" style="left:1506px;top:167px;width:67px;height:1px;background:#000"></div>
<div class="r" style="left:1506px;top:184px;width:67px;height:1px;background:#000"></div>
<div class="r" style="left:1506px;top:167px;width:1px;height:18px;background:#000"></div>
<div class="r" style="left:1572px;top:167px;width:1px;height:18px;background:#000"></div>
<div class="t" style="left:1507.3px;width:65.7px;top:137.6px;color:#111;font-size:10.3px;">Column</div>
<div class="t" style="left:1507.3px;width:65.7px;top:152.6px;color:#111;">5</div>
<div class="t" style="left:1507.3px;width:65.7px;top:169.3px;color:#111;">Primes</div>
<div class="r" style="left:1480px;top:184px;width:92px;height:1004px;background:#fff"></div>
<div class="r" style="left:1506px;top:184px;width:66px;height:18px;background:#00F000"></div>
<div class="r" style="left:1480px;top:684px;width:26px;height:18px;background:#99CCFF"></div>
<div class="r" style="left:1506px;top:684px;width:66px;height:18px;background:#FF3300"></div>
<div class="r" style="left:1506px;top:1171px;width:66px;height:17px;background:#00F000"></div>
<div class="r" style="left:1479px;top:202px;width:94px;height:1px;background:#000"></div>
<div class="r" style="left:1479px;top:218px;width:94px;height:1px;background:#000"></div>
<div class="r" style="left:1479px;top:234px;width:94px;height:1px;background:#000"></div>
<div class="r" style="left:1479px;top:251px;width:94px;height:1px;background:#000"></div>
<div class="r" style="left:1479px;top:268px;width:94px;height:1px;background:#000"></div>
<div class="r" style="left:1479px;top:284px;width:94px;height:1px;background:#000"></div>
<div class="r" style="left:1479px;top:301px;width:94px;height:1px;background:#000"></div>
<div class="r" style="left:1479px;top:318px;width:94px;height:1px;background:#000"></div>
<div class="r" style="left:1479px;top:334px;width:94px;height:1px;background:#000"></div>
<div class="r" style="left:1479px;top:350px;width:94px;height:1px;background:#000"></div>
<div class="r" style="left:1479px;top:366px;width:94px;height:1px;background:#000"></div>
<div class="r" style="left:1479px;top:383px;width:94px;height:1px;background:#000"></div>
<div class="r" style="left:1479px;top:400px;width:94px;height:1px;background:#000"></div>
<div class="r" style="left:1479px;top:417px;width:94px;height:1px;background:#000"></div>
<div class="r" style="left:1479px;top:434px;width:94px;height:1px;background:#000"></div>
<div class="r" style="left:1479px;top:450px;width:94px;height:1px;background:#000"></div>
<div class="r" style="left:1479px;top:467px;width:94px;height:1px;background:#000"></div>
<div class="r" style="left:1479px;top:484px;width:94px;height:1px;background:#000"></div>
<div class="r" style="left:1479px;top:501px;width:94px;height:1px;background:#000"></div>
<div class="r" style="left:1479px;top:518px;width:94px;height:1px;background:#000"></div>
<div class="r" style="left:1479px;top:534px;width:94px;height:1px;background:#000"></div>
<div class="r" style="left:1479px;top:550px;width:94px;height:1px;background:#000"></div>
<div class="r" style="left:1479px;top:569px;width:94px;height:1px;background:#000"></div>
<div class="r" style="left:1479px;top:585px;width:94px;height:1px;background:#000"></div>
<div class="r" style="left:1479px;top:601px;width:94px;height:1px;background:#000"></div>
<div class="r" style="left:1479px;top:617px;width:94px;height:1px;background:#000"></div>
<div class="r" style="left:1479px;top:634px;width:94px;height:1px;background:#000"></div>
<div class="r" style="left:1479px;top:650px;width:94px;height:1px;background:#000"></div>
<div class="r" style="left:1479px;top:667px;width:94px;height:1px;background:#000"></div>
<div class="r" style="left:1479px;top:684px;width:94px;height:1px;background:#000"></div>
<div class="r" style="left:1479px;top:701px;width:94px;height:1px;background:#000"></div>
<div class="r" style="left:1479px;top:718px;width:94px;height:1px;background:#000"></div>
<div class="r" style="left:1479px;top:734px;width:94px;height:1px;background:#000"></div>
<div class="r" style="left:1479px;top:750px;width:94px;height:1px;background:#000"></div>
<div class="r" style="left:1479px;top:766px;width:94px;height:1px;background:#000"></div>
<div class="r" style="left:1479px;top:782px;width:94px;height:1px;background:#000"></div>
<div class="r" style="left:1479px;top:798px;width:94px;height:1px;background:#000"></div>
<div class="r" style="left:1479px;top:815px;width:94px;height:1px;background:#000"></div>
<div class="r" style="left:1479px;top:831px;width:94px;height:1px;background:#000"></div>
<div class="r" style="left:1479px;top:850px;width:94px;height:1px;background:#000"></div>
<div class="r" style="left:1479px;top:866px;width:94px;height:1px;background:#000"></div>
<div class="r" style="left:1479px;top:882px;width:94px;height:1px;background:#000"></div>
<div class="r" style="left:1479px;top:898px;width:94px;height:1px;background:#000"></div>
<div class="r" style="left:1479px;top:914px;width:94px;height:1px;background:#000"></div>
<div class="r" style="left:1479px;top:930px;width:94px;height:1px;background:#000"></div>
<div class="r" style="left:1479px;top:946px;width:94px;height:1px;background:#000"></div>
<div class="r" style="left:1479px;top:962px;width:94px;height:1px;background:#000"></div>
<div class="r" style="left:1479px;top:978px;width:94px;height:1px;background:#000"></div>
<div class="r" style="left:1479px;top:994px;width:94px;height:1px;background:#000"></div>
<div class="r" style="left:1479px;top:1010px;width:94px;height:1px;background:#000"></div>
<div class="r" style="left:1479px;top:1026px;width:94px;height:1px;background:#000"></div>
<div class="r" style="left:1479px;top:1042px;width:94px;height:1px;background:#000"></div>
<div class="r" style="left:1479px;top:1058px;width:94px;height:1px;background:#000"></div>
<div class="r" style="left:1479px;top:1074px;width:94px;height:1px;background:#000"></div>
<div class="r" style="left:1479px;top:1090px;width:94px;height:1px;background:#000"></div>
<div class="r" style="left:1479px;top:1106px;width:94px;height:1px;background:#000"></div>
<div class="r" style="left:1479px;top:1122px;width:94px;height:1px;background:#000"></div>
<div class="r" style="left:1479px;top:1138px;width:94px;height:1px;background:#000"></div>
<div class="r" style="left:1479px;top:1154px;width:94px;height:1px;background:#000"></div>
<div class="r" style="left:1479px;top:1171px;width:94px;height:1px;background:#000"></div>
<div class="r" style="left:1479px;top:184px;width:94px;height:1px;background:#000"></div>
<div class="r" style="left:1479px;top:1188px;width:94px;height:1px;background:#000"></div>
<div class="r" style="left:1479px;top:184px;width:1px;height:1005px;background:#000"></div>
<div class="r" style="left:1572px;top:184px;width:1px;height:1005px;background:#000"></div>
<div class="r" style="left:1506px;top:184px;width:1px;height:1005px;background:#000"></div>
<div class="r" style="left:1505px;top:183px;width:68px;height:2px;background:#000"></div>
<div class="r" style="left:1505px;top:185px;width:68px;height:1px;background:rgba(0,0,0,0.20)"></div>
<div class="r" style="left:1505px;top:201px;width:68px;height:2px;background:#000"></div>
<div class="r" style="left:1505px;top:203px;width:68px;height:1px;background:rgba(0,0,0,0.20)"></div>
<div class="r" style="left:1505px;top:183px;width:2px;height:20px;background:#000"></div>
<div class="r" style="left:1507px;top:183px;width:1px;height:20px;background:rgba(0,0,0,0.20)"></div>
<div class="r" style="left:1571px;top:183px;width:2px;height:20px;background:#000"></div>
<div class="r" style="left:1573px;top:183px;width:1px;height:20px;background:rgba(0,0,0,0.20)"></div>
<div class="r" style="left:1505px;top:683px;width:68px;height:2px;background:#000"></div>
<div class="r" style="left:1505px;top:685px;width:68px;height:1px;background:rgba(0,0,0,0.20)"></div>
<div class="r" style="left:1505px;top:701px;width:68px;height:2px;background:#000"></div>
<div class="r" style="left:1505px;top:703px;width:68px;height:1px;background:rgba(0,0,0,0.20)"></div>
<div class="r" style="left:1505px;top:683px;width:2px;height:20px;background:#000"></div>
<div class="r" style="left:1507px;top:683px;width:1px;height:20px;background:rgba(0,0,0,0.20)"></div>
<div class="r" style="left:1571px;top:683px;width:2px;height:20px;background:#000"></div>
<div class="r" style="left:1573px;top:683px;width:1px;height:20px;background:rgba(0,0,0,0.20)"></div>
<div class="r" style="left:1505px;top:1170px;width:68px;height:2px;background:#000"></div>
<div class="r" style="left:1505px;top:1172px;width:68px;height:1px;background:rgba(0,0,0,0.20)"></div>
<div class="r" style="left:1505px;top:1187px;width:68px;height:2px;background:#000"></div>
<div class="r" style="left:1505px;top:1189px;width:68px;height:1px;background:rgba(0,0,0,0.20)"></div>
<div class="r" style="left:1505px;top:1170px;width:2px;height:19px;background:#000"></div>
<div class="r" style="left:1507px;top:1170px;width:1px;height:19px;background:rgba(0,0,0,0.20)"></div>
<div class="r" style="left:1571px;top:1170px;width:2px;height:19px;background:#000"></div>
<div class="r" style="left:1573px;top:1170px;width:1px;height:19px;background:rgba(0,0,0,0.20)"></div>
<div class="t" style="left:1480.7px;width:26.6px;top:186.7px;color:#111;">245</div>
<div class="t" style="left:1507.3px;width:65.7px;top:186.7px;color:#111;font-weight:bold;">1549</div>
<div class="t" style="left:1480.7px;width:26.6px;top:203.85px;color:#111;">246</div>
<div class="t" style="left:1507.3px;width:65.7px;top:203.85px;color:#111;">1553</div>
<div class="t" style="left:1480.7px;width:26.6px;top:220.05px;color:#111;">247</div>
<div class="t" style="left:1507.3px;width:65.7px;top:220.05px;color:#111;">1559</div>
<div class="t" style="left:1480.7px;width:26.6px;top:236.5px;color:#111;">248</div>
<div class="t" style="left:1507.3px;width:65.7px;top:236.5px;color:#111;">1567</div>
<div class="t" style="left:1480.7px;width:26.6px;top:253.3px;color:#111;">249</div>
<div class="t" style="left:1507.3px;width:65.7px;top:253.3px;color:#111;">1571</div>
<div class="t" style="left:1480.7px;width:26.6px;top:270.15px;color:#111;">250</div>
<div class="t" style="left:1507.3px;width:65.7px;top:270.15px;color:#111;">1579</div>
<div class="t" style="left:1480.7px;width:26.6px;top:287.05px;color:#111;">251</div>
<div class="t" style="left:1507.3px;width:65.7px;top:287.05px;color:#111;">1583</div>
<div class="t" style="left:1480.7px;width:26.6px;top:303.6px;color:#111;">252</div>
<div class="t" style="left:1507.3px;width:65.7px;top:303.6px;color:#111;">1597</div>
<div class="t" style="left:1480.7px;width:26.6px;top:319.8px;color:#111;">253</div>
<div class="t" style="left:1507.3px;width:65.7px;top:319.8px;color:#111;">1601</div>
<div class="t" style="left:1480.7px;width:26.6px;top:335.95px;color:#111;">254</div>
<div class="t" style="left:1507.3px;width:65.7px;top:335.95px;color:#111;">1607</div>
<div class="t" style="left:1480.7px;width:26.6px;top:352.15px;color:#111;">255</div>
<div class="t" style="left:1507.3px;width:65.7px;top:352.15px;color:#111;">1609</div>
<div class="t" style="left:1480.7px;width:26.6px;top:368.75px;color:#111;">256</div>
<div class="t" style="left:1507.3px;width:65.7px;top:368.75px;color:#111;">1613</div>
<div class="t" style="left:1480.7px;width:26.6px;top:385.85px;color:#111;">257</div>
<div class="t" style="left:1507.3px;width:65.7px;top:385.85px;color:#111;">1619</div>
<div class="t" style="left:1480.7px;width:26.6px;top:403.05px;color:#111;">258</div>
<div class="t" style="left:1507.3px;width:65.7px;top:403.05px;color:#111;">1621</div>
<div class="t" style="left:1480.7px;width:26.6px;top:419.85px;color:#111;">259</div>
<div class="t" style="left:1507.3px;width:65.7px;top:419.85px;color:#111;">1627</div>
<div class="t" style="left:1480.7px;width:26.6px;top:436.2px;color:#111;">260</div>
<div class="t" style="left:1507.3px;width:65.7px;top:436.2px;color:#111;">1637</div>
<div class="t" style="left:1480.7px;width:26.6px;top:452.65px;color:#111;">261</div>
<div class="t" style="left:1507.3px;width:65.7px;top:452.65px;color:#111;">1657</div>
<div class="t" style="left:1480.7px;width:26.6px;top:469.55px;color:#111;">262</div>
<div class="t" style="left:1507.3px;width:65.7px;top:469.55px;color:#111;">1663</div>
<div class="t" style="left:1480.7px;width:26.6px;top:486.55px;color:#111;">263</div>
<div class="t" style="left:1507.3px;width:65.7px;top:486.55px;color:#111;">1667</div>
<div class="t" style="left:1480.7px;width:26.6px;top:503.55px;color:#111;">264</div>
<div class="t" style="left:1507.3px;width:65.7px;top:503.55px;color:#111;">1669</div>
<div class="t" style="left:1480.7px;width:26.6px;top:520.15px;color:#111;">265</div>
<div class="t" style="left:1507.3px;width:65.7px;top:520.15px;color:#111;">1693</div>
<div class="t" style="left:1480.7px;width:26.6px;top:536.3px;color:#111;">266</div>
<div class="t" style="left:1507.3px;width:65.7px;top:536.3px;color:#111;">1697</div>
<div class="t" style="left:1480.7px;width:26.6px;top:553.6px;color:#111;">267</div>
<div class="t" style="left:1507.3px;width:65.7px;top:553.6px;color:#111;">1699</div>
<div class="t" style="left:1480.7px;width:26.6px;top:570.85px;color:#111;">268</div>
<div class="t" style="left:1507.3px;width:65.7px;top:570.85px;color:#111;">1709</div>
<div class="t" style="left:1480.7px;width:26.6px;top:587px;color:#111;">269</div>
<div class="t" style="left:1507.3px;width:65.7px;top:587px;color:#111;">1721</div>
<div class="t" style="left:1480.7px;width:26.6px;top:603.15px;color:#111;">270</div>
<div class="t" style="left:1507.3px;width:65.7px;top:603.15px;color:#111;">1723</div>
<div class="t" style="left:1480.7px;width:26.6px;top:619.6px;color:#111;">271</div>
<div class="t" style="left:1507.3px;width:65.7px;top:619.6px;color:#111;">1733</div>
<div class="t" style="left:1480.7px;width:26.6px;top:636.1px;color:#111;">272</div>
<div class="t" style="left:1507.3px;width:65.7px;top:636.1px;color:#111;">1741</div>
<div class="t" style="left:1480.7px;width:26.6px;top:652.6px;color:#111;">273</div>
<div class="t" style="left:1507.3px;width:65.7px;top:652.6px;color:#111;">1747</div>
<div class="t" style="left:1480.7px;width:26.6px;top:669.5px;color:#111;">274</div>
<div class="t" style="left:1507.3px;width:65.7px;top:669.5px;color:#111;">1753</div>
<div class="t" style="left:1480.7px;width:26.6px;top:686.65px;color:#111;">275</div>
<div class="t" style="left:1507.3px;width:65.7px;top:686.65px;color:#fff;font-weight:bold;">1759</div>
<div class="t" style="left:1480.7px;width:26.6px;top:703.75px;color:#111;">276</div>
<div class="t" style="left:1507.3px;width:65.7px;top:703.75px;color:#111;">1777</div>
<div class="t" style="left:1480.7px;width:26.6px;top:720.2px;color:#111;">277</div>
<div class="t" style="left:1507.3px;width:65.7px;top:720.2px;color:#111;">1783</div>
<div class="t" style="left:1480.7px;width:26.6px;top:736.2px;color:#111;">278</div>
<div class="t" style="left:1507.3px;width:65.7px;top:736.2px;color:#111;">1787</div>
<div class="t" style="left:1480.7px;width:26.6px;top:752.15px;color:#111;">279</div>
<div class="t" style="left:1507.3px;width:65.7px;top:752.15px;color:#111;">1789</div>
<div class="t" style="left:1480.7px;width:26.6px;top:768.25px;color:#111;">280</div>
<div class="t" style="left:1507.3px;width:65.7px;top:768.25px;color:#111;">1801</div>
<div class="t" style="left:1480.7px;width:26.6px;top:784.4px;color:#111;">281</div>
<div class="t" style="left:1507.3px;width:65.7px;top:784.4px;color:#111;">1811</div>
<div class="t" style="left:1480.7px;width:26.6px;top:800.6px;color:#111;">282</div>
<div class="t" style="left:1507.3px;width:65.7px;top:800.6px;color:#111;">1823</div>
<div class="t" style="left:1480.7px;width:26.6px;top:816.85px;color:#111;">283</div>
<div class="t" style="left:1507.3px;width:65.7px;top:816.85px;color:#111;">1831</div>
<div class="t" style="left:1480.7px;width:26.6px;top:834.35px;color:#111;">284</div>
<div class="t" style="left:1507.3px;width:65.7px;top:834.35px;color:#111;">1847</div>
<div class="t" style="left:1480.7px;width:26.6px;top:851.9px;color:#111;">285</div>
<div class="t" style="left:1507.3px;width:65.7px;top:851.9px;color:#111;">1861</div>
<div class="t" style="left:1480.7px;width:26.6px;top:868.1px;color:#111;">286</div>
<div class="t" style="left:1507.3px;width:65.7px;top:868.1px;color:#111;">1867</div>
<div class="t" style="left:1480.7px;width:26.6px;top:884.25px;color:#111;">287</div>
<div class="t" style="left:1507.3px;width:65.7px;top:884.25px;color:#111;">1871</div>
<div class="t" style="left:1480.7px;width:26.6px;top:900.15px;color:#111;">288</div>
<div class="t" style="left:1507.3px;width:65.7px;top:900.15px;color:#111;">1873</div>
<div class="t" style="left:1480.7px;width:26.6px;top:916.05px;color:#111;">289</div>
<div class="t" style="left:1507.3px;width:65.7px;top:916.05px;color:#111;">1877</div>
<div class="t" style="left:1480.7px;width:26.6px;top:932px;color:#111;">290</div>
<div class="t" style="left:1507.3px;width:65.7px;top:932px;color:#111;">1879</div>
<div class="t" style="left:1480.7px;width:26.6px;top:948px;color:#111;">291</div>
<div class="t" style="left:1507.3px;width:65.7px;top:948px;color:#111;">1889</div>
<div class="t" style="left:1480.7px;width:26.6px;top:964px;color:#111;">292</div>
<div class="t" style="left:1507.3px;width:65.7px;top:964px;color:#111;">1901</div>
<div class="t" style="left:1480.7px;width:26.6px;top:980.1px;color:#111;">293</div>
<div class="t" style="left:1507.3px;width:65.7px;top:980.1px;color:#111;">1907</div>
<div class="t" style="left:1480.7px;width:26.6px;top:996.25px;color:#111;">294</div>
<div class="t" style="left:1507.3px;width:65.7px;top:996.25px;color:#111;">1913</div>
<div class="t" style="left:1480.7px;width:26.6px;top:1012.1px;color:#111;">295</div>
<div class="t" style="left:1507.3px;width:65.7px;top:1012.1px;color:#111;">1931</div>
<div class="t" style="left:1480.7px;width:26.6px;top:1028.15px;color:#111;">296</div>
<div class="t" style="left:1507.3px;width:65.7px;top:1028.15px;color:#111;">1933</div>
<div class="t" style="left:1480.7px;width:26.6px;top:1044.25px;color:#111;">297</div>
<div class="t" style="left:1507.3px;width:65.7px;top:1044.25px;color:#111;">1949</div>
<div class="t" style="left:1480.7px;width:26.6px;top:1060.15px;color:#111;">298</div>
<div class="t" style="left:1507.3px;width:65.7px;top:1060.15px;color:#111;">1951</div>
<div class="t" style="left:1480.7px;width:26.6px;top:1076.05px;color:#111;">299</div>
<div class="t" style="left:1507.3px;width:65.7px;top:1076.05px;color:#111;">1973</div>
<div class="t" style="left:1480.7px;width:26.6px;top:1091.95px;color:#111;">300</div>
<div class="t" style="left:1507.3px;width:65.7px;top:1091.95px;color:#111;">1979</div>
<div class="t" style="left:1480.7px;width:26.6px;top:1107.9px;color:#111;">301</div>
<div class="t" style="left:1507.3px;width:65.7px;top:1107.9px;color:#111;">1987</div>
<div class="t" style="left:1480.7px;width:26.6px;top:1123.85px;color:#111;">302</div>
<div class="t" style="left:1507.3px;width:65.7px;top:1123.85px;color:#111;">1993</div>
<div class="t" style="left:1480.7px;width:26.6px;top:1139.9px;color:#111;">303</div>
<div class="t" style="left:1507.3px;width:65.7px;top:1139.9px;color:#111;">1997</div>
<div class="t" style="left:1480.7px;width:26.6px;top:1156.4px;color:#111;">304</div>
<div class="t" style="left:1507.3px;width:65.7px;top:1156.4px;color:#111;">1999</div>
<div class="t" style="left:1480.7px;width:26.6px;top:1173.25px;color:#111;">305</div>
<div class="t" style="left:1507.3px;width:65.7px;top:1173.25px;color:#111;">2003</div>
</body></html>
